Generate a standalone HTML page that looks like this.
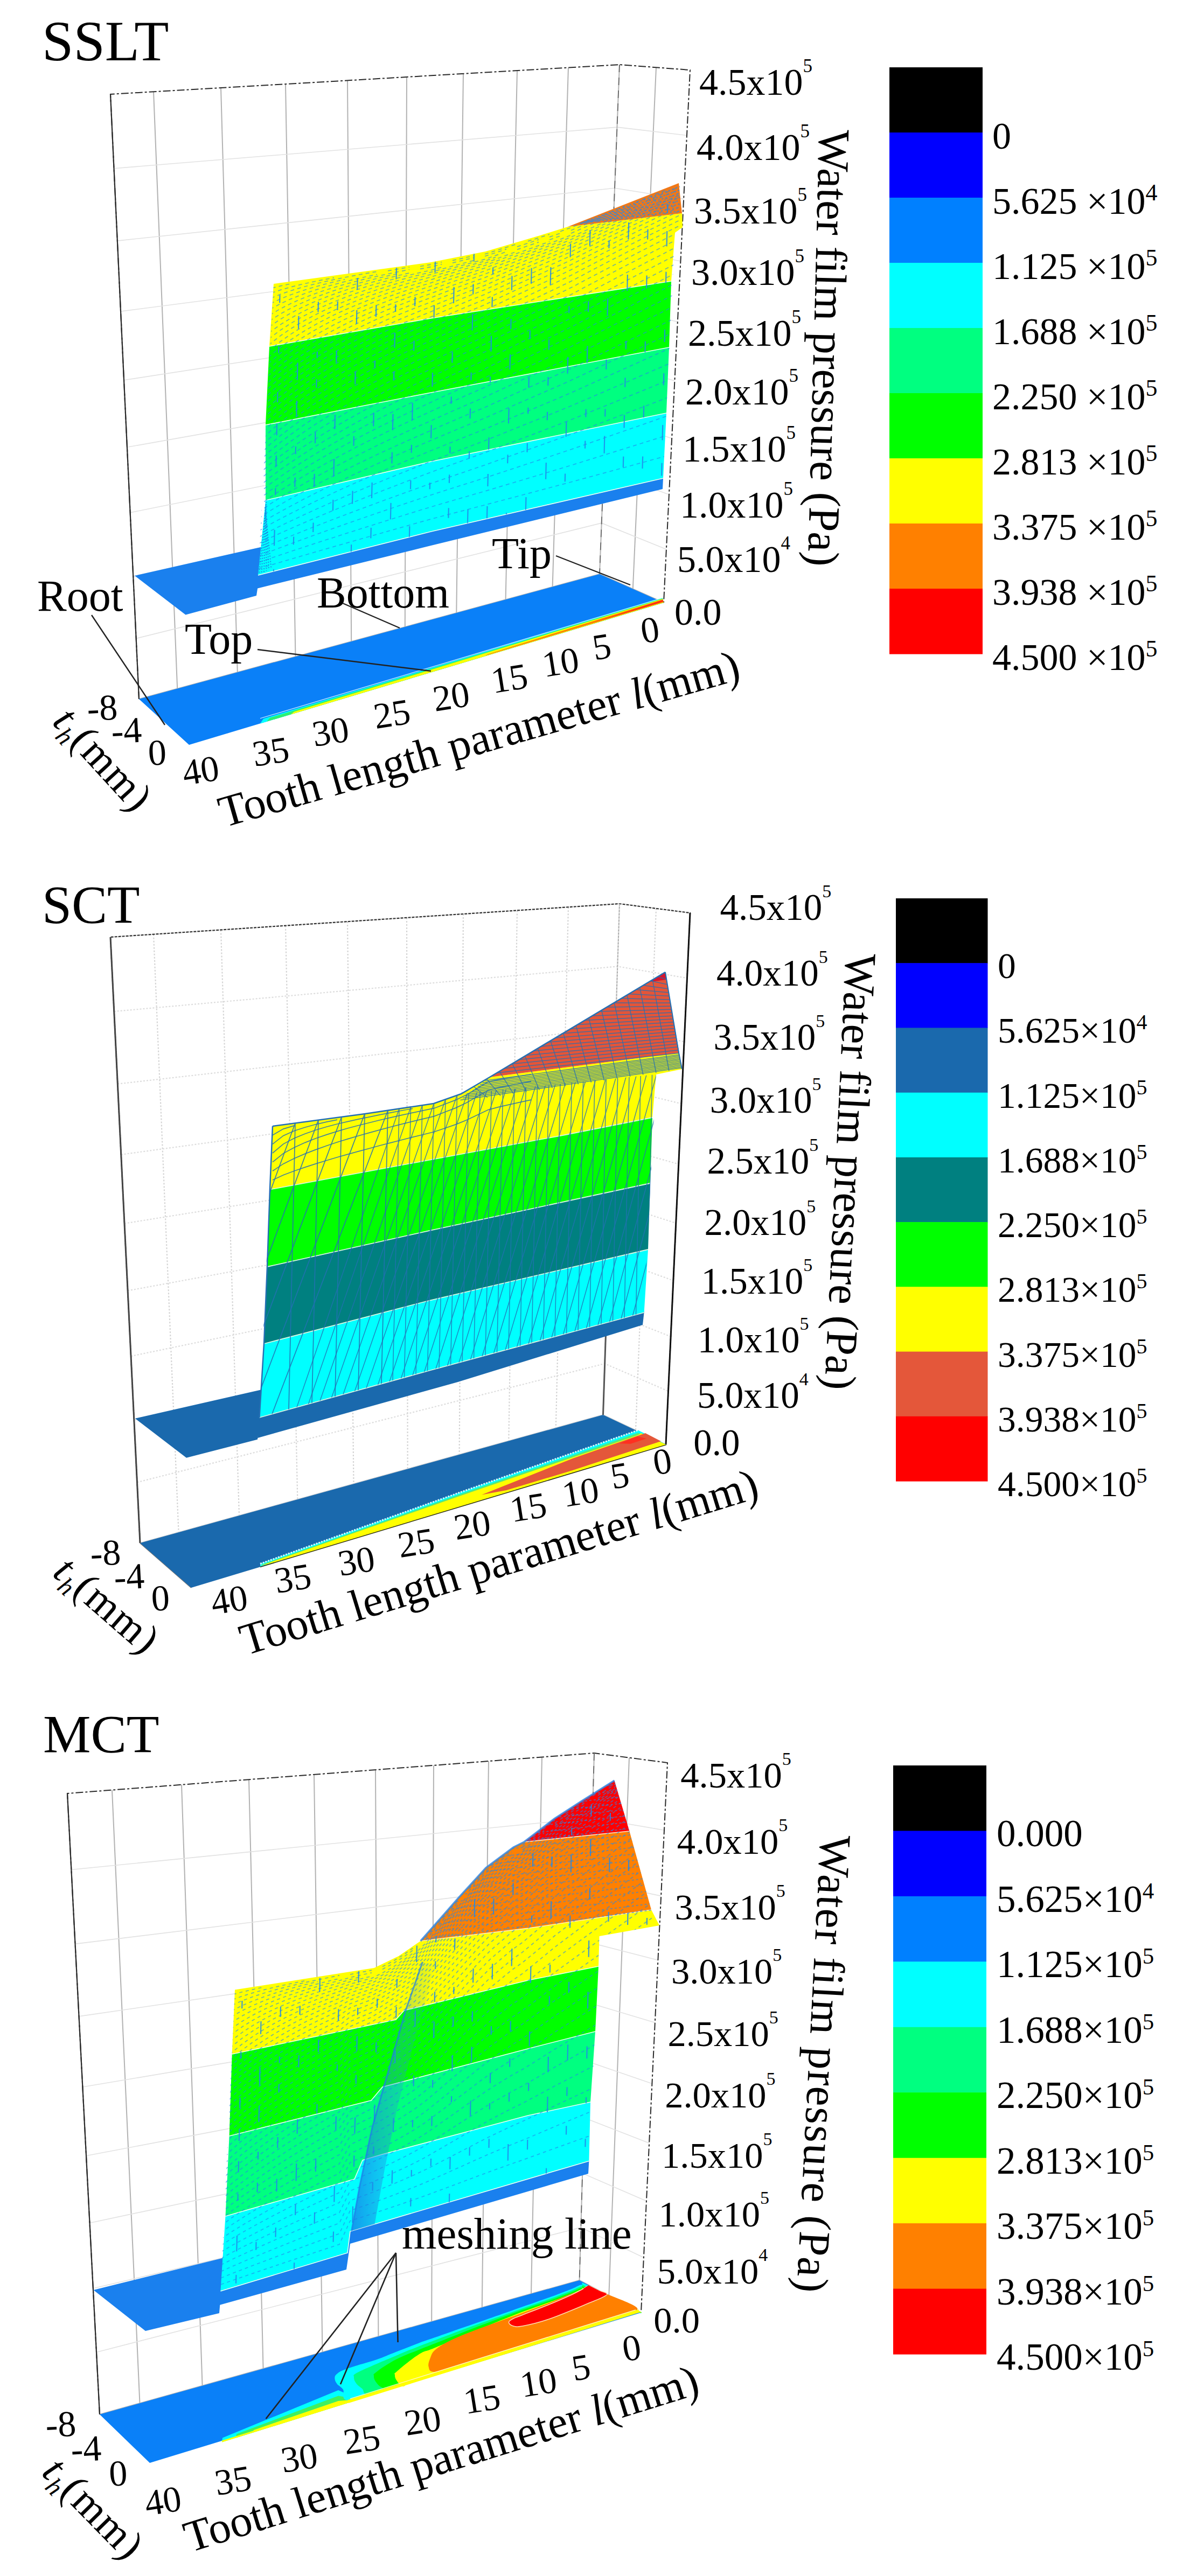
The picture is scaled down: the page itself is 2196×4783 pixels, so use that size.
<!DOCTYPE html>
<html><head><meta charset="utf-8"><title>Water film pressure</title>
<style>
html,body{margin:0;padding:0;background:#fff}
svg{display:block}
text{font-family:"Liberation Serif",serif;fill:#000}
</style></head><body>
<svg width="2196" height="4783" viewBox="0 0 2196 4783">
<rect width="2196" height="4783" fill="#fff"/>

<g id="p1">
<line x1="285.0" y1="170.3" x2="329.2" y2="1278.7" stroke="#b2b2b2" stroke-width="2.0" />
<line x1="329.2" y1="1278.7" x2="423.2" y2="1361.4" stroke="#e2e2e2" stroke-width="2.0" />
<line x1="410.0" y1="163.1" x2="440.8" y2="1248.4" stroke="#b2b2b2" stroke-width="2.0" />
<line x1="440.8" y1="1248.4" x2="536.6" y2="1327.4" stroke="#e2e2e2" stroke-width="2.0" />
<line x1="530.0" y1="156.1" x2="548.5" y2="1219.2" stroke="#b2b2b2" stroke-width="2.0" />
<line x1="548.5" y1="1219.2" x2="645.9" y2="1294.6" stroke="#e2e2e2" stroke-width="2.0" />
<line x1="645.0" y1="149.4" x2="652.2" y2="1191.0" stroke="#b2b2b2" stroke-width="2.0" />
<line x1="652.2" y1="1191.0" x2="751.1" y2="1263.1" stroke="#e2e2e2" stroke-width="2.0" />
<line x1="755.0" y1="143.0" x2="751.8" y2="1164.0" stroke="#b2b2b2" stroke-width="2.0" />
<line x1="751.8" y1="1164.0" x2="852.2" y2="1232.8" stroke="#e2e2e2" stroke-width="2.0" />
<line x1="860.0" y1="136.9" x2="847.3" y2="1138.1" stroke="#b2b2b2" stroke-width="2.0" />
<line x1="847.3" y1="1138.1" x2="949.1" y2="1203.8" stroke="#e2e2e2" stroke-width="2.0" />
<line x1="960.0" y1="131.1" x2="938.6" y2="1113.3" stroke="#b2b2b2" stroke-width="2.0" />
<line x1="938.6" y1="1113.3" x2="1041.7" y2="1176.0" stroke="#e2e2e2" stroke-width="2.0" />
<line x1="1055.0" y1="125.5" x2="1025.6" y2="1089.7" stroke="#b2b2b2" stroke-width="2.0" />
<line x1="1025.6" y1="1089.7" x2="1130.1" y2="1149.5" stroke="#e2e2e2" stroke-width="2.0" />
<line x1="1218.0" y1="125.2" x2="1174.8" y2="1093.5" stroke="#b2b2b2" stroke-width="2.0" />
<polyline points="211.5,312.8 1145.5,236.1 1275.0,251.3" fill="none" stroke="#e2e2e2" stroke-width="1.6" />
<polyline points="217.8,447.1 1141.0,349.2 1269.1,369.6" fill="none" stroke="#e2e2e2" stroke-width="1.6" />
<polyline points="224.0,578.1 1136.7,459.6 1263.4,485.0" fill="none" stroke="#e2e2e2" stroke-width="1.6" />
<polyline points="230.1,705.8 1132.5,567.1 1257.8,597.5" fill="none" stroke="#e2e2e2" stroke-width="1.6" />
<polyline points="235.9,830.3 1128.4,672.0 1252.4,707.1" fill="none" stroke="#e2e2e2" stroke-width="1.6" />
<polyline points="241.7,951.7 1124.4,774.3 1247.1,814.0" fill="none" stroke="#e2e2e2" stroke-width="1.6" />
<polyline points="247.2,1070.1 1120.5,874.0 1241.9,918.3" fill="none" stroke="#e2e2e2" stroke-width="1.6" />
<polyline points="252.7,1185.5 1116.7,971.2 1236.9,1019.9" fill="none" stroke="#e2e2e2" stroke-width="1.6" />
<polyline points="304.5,1340.5 1172.5,1092.5" fill="none" stroke="#e2e2e2" stroke-width="2.0" />
<polyline points="258.0,1298.0 205.0,175.0 1150.0,120.0 1281.0,130.0 1232.0,1119.0" fill="none" stroke="#2a2a2a" stroke-width="2.0" stroke-dasharray="14 4 4 4"/>
<line x1="1150.0" y1="120.0" x2="1113.0" y2="1066.0" stroke="#b2b2b2" stroke-width="2.0" />
<line x1="1150.0" y1="120.0" x2="1113.0" y2="1066.0" stroke="#2a2a2a" stroke-width="1.8" stroke-dasharray="14 10" opacity="0.55"/>
<line x1="258.0" y1="1298.0" x2="1113.0" y2="1066.0" stroke="#b2b2b2" stroke-width="2.0" />
<line x1="1113.0" y1="1066.0" x2="1232.0" y2="1119.0" stroke="#b2b2b2" stroke-width="2.0" />
<line x1="205.0" y1="175.0" x2="258.0" y2="1298.0" stroke="#2a2a2a" stroke-width="2.2" />
<polygon points="258.0,1298.0 1113.0,1066.0 1232.0,1119.0 351.0,1383.0" fill="#0a80f8" />
<polygon points="483.0,1343.4 1232.0,1119.0 1230.0,1110.0 489.0,1334.4" fill="#00ffff" />
<polygon points="495.0,1339.8 1232.0,1119.0 1230.0,1111.0 501.0,1332.8" fill="#30f070" />
<polygon points="540.0,1326.4 1232.0,1119.0 1230.0,1112.0 546.0,1321.4" fill="#ffff00" />
<polygon points="900.0,1217.5 1232.0,1118.0 1230.0,1113.0 906.0,1214.5" fill="#ff8000" />
<polygon points="1100.0,1156.6 1232.0,1117.0 1230.0,1114.0 1106.0,1154.6" fill="#ff3010" />
<polyline points="483.0,1333.9 1230.0,1110.1" fill="none" stroke="#d8fbff" stroke-width="1.5" opacity="0.8"/>
<polygon points="250.0,1069.0 485.0,1015.7 480.0,1080.0 476.0,1106.0 344.5,1141.6" fill="#1a80ee" />
<polygon points="479.0,1068.0 800.0,987.0 1231.0,888.0 1230.0,908.0 800.0,1013.0 476.0,1093.0" fill="#1a80ee" />
<polygon points="493.0,929.0 800.0,857.0 1237.0,767.0 1231.0,888.0 800.0,987.0 479.0,1068.0" fill="#00ffff" />
<polygon points="493.0,789.0 800.0,729.0 1242.0,645.0 1237.0,767.0 800.0,857.0 493.0,929.0" fill="#00ff80" />
<polygon points="500.0,643.0 800.0,591.0 1246.0,522.0 1242.0,645.0 800.0,729.0 493.0,789.0" fill="#00ff00" />
<polygon points="508.0,527.0 800.0,487.0 901.0,467.0 1003.0,437.0 1054.0,421.0 1266.0,396.0 1267.0,422.0 1253.0,432.0 1246.0,522.0 800.0,591.0 500.0,643.0" fill="#ffff00" />
<polygon points="1054.0,421.0 1260.0,340.0 1266.0,396.0" fill="#f07818" />
<clipPath id="cl1"><polygon points="508.0,527.0 800.0,487.0 901.0,467.0 1003.0,437.0 1054.0,421.0 1260.0,340.0 1267.0,422.0 1253.0,432.0 1231.0,888.0 800.0,987.0 479.0,1068.0"/></clipPath>
<polyline points="500.0,643.0 800.0,591.0 1246.0,522.0" fill="none" stroke="#e8fff0" stroke-width="1.6" />
<polyline points="493.0,789.0 800.0,729.0 1242.0,645.0" fill="none" stroke="#e8fff0" stroke-width="1.6" />
<polyline points="493.0,929.0 800.0,857.0 1237.0,767.0" fill="none" stroke="#e8fff0" stroke-width="1.6" />
<polyline points="479.0,1068.0 800.0,987.0 1231.0,888.0" fill="none" stroke="#e8fff0" stroke-width="1.6" />
<path clip-path="url(#cl1)" d="M480 542.5L500 536.1L520 531.2L540 526.9M480 554.2L500 545.3L520 538.6L540 532.9L560 527.9L580 523.5L600 519.4L620 515.7M480 565.9L500 554.9L520 546.6L540 539.7L560 533.7L580 528.4L600 523.6L620 519.2L640 515.1L660 511.3L680 507.6L700 504.2M480 577.5L500 564.9L520 555.2L540 547.2L560 540.2L580 534.0L600 528.4L620 523.4L640 518.8M720 502.9L740 499.4L760 496.0M480 589.2L500 575.1L520 564.2L540 555.1L560 547.2L580 540.2L600 533.9L620 528.3L640 523.0L660 518.2L680 513.7L700 509.5M780 494.5L800 491.1L820 486.6M480 600.9L500 585.4L520 573.6L540 563.5L560 554.7L580 547.0L600 540.0L620 533.7L640 527.9L660 522.6L680 517.6L700 513.0L720 508.6L740 504.5L760 500.5M840 483.7L860 479.2L880 474.7M480 612.5L500 596.0L520 583.2L540 572.2L560 562.7L580 554.2L600 546.6L620 539.6L640 533.3L660 527.5L680 522.1L700 517.0L720 512.2L740 507.8M780 499.4L800 495.5L820 490.6M900 471.8L920 465.5L940 459.2L960 452.9M480 624.2L500 606.7L520 593.0L540 581.3L560 571.0L580 561.9L600 553.6L620 546.1L640 539.2L660 532.9L680 527.0L700 521.5L720 516.4L740 511.5L760 506.9M840 488.1L860 483.2L880 478.3M980 447.9L1000 441.6L1020 435.0M480 635.9L500 617.5L520 603.1L540 590.7L560 579.7L580 569.9L600 561.1L620 553.0L640 545.6L660 538.8L680 532.4L700 526.5L720 521.0L740 515.8L760 510.8L780 506.1L800 501.7L820 496.2M900 475.8L920 469.2L940 462.6M1040 429.7L1060 422.5L1080 414.3L1100 406.1M480 647.6L500 628.5L520 613.4L540 600.3L560 588.8L580 578.4L600 569.0L620 560.4L640 552.4L660 545.1L680 538.4L700 532.0L720 526.1L740 520.5L760 515.2L780 510.2L800 505.4L820 499.7L840 494.1L860 488.8L880 483.5M960 458.1L980 451.5L1000 444.9M1120 399.2L1140 390.9L1160 382.8M480 659.2L500 639.5L520 623.9L540 610.2L560 598.1L580 587.2L600 577.2L620 568.1L640 559.7L660 552.0L680 544.7L700 538.0L720 531.7L740 525.7L760 520.1L780 514.7L800 509.6L820 503.6L840 497.8L860 492.2L880 486.7L900 481.4L920 474.4L940 467.4M1020 440.1L1040 433.1M1180 375.8L1200 367.6L1220 359.4L1240 351.3M480 670.9L500 650.7L520 634.5L540 620.4L560 607.7L580 596.3L600 585.9L620 576.3L640 567.4L660 559.2L680 551.6L700 544.4L720 537.7L740 531.4L760 525.4L780 519.7L800 514.3L820 508.0L840 502.0L860 496.1L880 490.4L900 484.8L920 477.6M960 463.4L980 456.4L1000 449.6M1060 427.8L1080 419.3L1100 410.8L1120 402.4M1260 344.3M480 682.6L500 661.9L520 645.3L540 630.7L560 617.6L580 605.8L600 594.9L620 584.8L640 575.6L660 566.9L680 558.9L700 551.3L720 544.2L740 537.5L760 531.2L780 525.2L800 519.5L820 512.9L840 506.6L860 500.4L880 494.5L900 488.7L920 481.3L940 473.9L960 466.7M1020 445.2L1040 438.0M1140 396.0L1160 387.5L1180 379.1M480 694.2L500 673.3L520 656.3L540 641.3L560 627.8L580 615.5L600 604.2L620 593.8L640 584.1L660 575.0L680 566.6L700 558.7L720 551.2L740 544.2L760 537.5L780 531.2L800 525.1L820 518.3L840 511.7L860 505.3L880 499.0L900 493.0L920 485.4L940 477.8L960 470.4L980 463.1L1000 455.9L1020 448.4M1060 433.2L1080 424.4L1100 415.7L1120 407.0M1200 372.8L1220 364.3L1240 355.9L1260 347.5M480 705.9L500 684.7L520 667.4L540 652.1L560 638.2L580 625.5L600 613.9L620 603.1L640 593.0L660 583.6L680 574.8L700 566.5L720 558.7L740 551.3L760 544.3L780 537.6L800 531.3L820 524.1L840 517.2L860 510.6L880 504.1L900 497.8L920 490.0L940 482.2L960 474.6L980 467.1L1000 459.7L1020 452.1L1040 444.5L1060 436.5M1140 401.1L1160 392.4L1180 383.8M480 717.6L500 696.1L520 678.6L540 663.0L560 648.9L580 635.9L600 623.8L620 612.7L640 602.3L660 592.5L680 583.4L700 574.7L720 566.6L740 558.9L760 551.5L780 544.6L800 537.9L820 530.5L840 523.3L860 516.4L880 509.7L900 503.2L920 495.1L940 487.2L960 479.3L980 471.6L1000 464.0L1020 456.2L1040 448.5L1060 440.3L1080 431.2L1100 422.2L1120 413.3L1140 404.4M1200 378.0L1220 369.4L1240 360.7L1260 352.2M480 729.3L500 707.7L520 690.0L540 674.1L560 659.7L580 646.4L600 634.1L620 622.7L640 611.9L660 601.9L680 592.4L700 583.4L720 574.9L740 566.9L760 559.3L780 552.0L800 545.0L820 537.4L840 529.9L860 522.8L880 515.8L900 509.0L920 500.8L940 492.6L960 484.5L980 476.6L1000 468.8L1020 460.9L1040 452.9L1060 444.7L1080 435.4L1100 426.2L1120 417.1L1140 408.1L1160 399.1L1180 390.2L1200 381.4M480 740.9L500 719.3L520 701.4L540 685.4L560 670.8L580 657.3L600 644.7L620 633.0L640 621.9L660 611.6L680 601.8L700 592.5L720 583.8L740 575.4L760 567.5L780 559.9L800 552.7L820 544.7L840 537.1L860 529.6L880 522.4L900 515.4L920 506.9L940 498.6L960 490.3L980 482.2L1000 474.2L1020 466.1L1040 457.9L1060 449.5L1080 440.1L1100 430.8L1120 421.5L1140 412.3L1160 403.2L1180 394.2L1200 385.2L1220 376.3L1240 367.4L1260 358.6M480 752.6L500 731.0L520 713.0L540 696.9L560 682.1L580 668.4L600 655.6L620 643.6L640 632.3L660 621.7L680 611.6L700 602.1L720 593.0L740 584.4L760 576.2L780 568.3L800 560.8L820 552.6L840 544.7L860 537.0L880 529.6L900 522.4L920 513.7L940 505.1L960 496.6L980 488.3L1000 480.2L1020 471.8L1040 463.5L1060 454.9L1080 445.3L1100 435.9L1120 426.5L1140 417.1L1160 407.9L1180 398.7L1200 389.6L1220 380.5L1240 371.5L1260 362.6M480 764.3L500 742.7L520 724.7L540 708.5L560 693.6L580 679.7L600 666.7L620 654.5L640 643.0L660 632.2L680 621.9L700 612.1L720 602.8L740 593.9L760 585.4L780 577.3L800 569.5L820 561.1L840 552.9L860 545.0L880 537.3L900 529.9L920 521.0L940 512.2L960 503.5L980 495.1L1000 486.7L1020 478.2L1040 469.7L1060 460.9L1080 451.2L1100 441.6L1120 432.0L1140 422.5L1160 413.1L1180 403.8L1200 394.5L1220 385.3L1240 376.2L1260 367.1M480 775.9L500 754.5L520 736.5L540 720.3L560 705.3L580 691.3L600 678.1L620 665.8L640 654.1L660 643.0L680 632.5L700 622.5L720 612.9L740 603.8L760 595.1L780 586.7L800 578.7L820 570.0L840 561.7L860 553.5L880 545.6L900 537.9L920 528.9L940 519.9L960 511.1L980 502.4L1000 493.8L1020 485.1L1040 476.5L1060 467.5L1080 457.7L1100 447.9L1120 438.2L1140 428.6L1160 419.0L1180 409.6L1200 400.2L1220 390.8L1240 381.5L1260 372.3M480 787.6L500 766.3L520 748.4L540 732.2L560 717.1L580 703.1L600 689.8L620 677.3L640 665.5L660 654.2L680 643.5L700 633.3L720 623.5L740 614.2L760 605.2L780 596.6L800 588.4L820 579.5L840 571.0L860 562.6L880 554.5L900 546.6L920 537.4L940 528.2L960 519.2L980 510.4L1000 501.6L1020 492.8L1040 483.9L1060 474.8L1080 464.8L1100 454.9L1120 445.0L1140 435.3L1160 425.6L1180 416.0L1200 406.4L1220 397.0L1240 387.6L1260 378.2M480 799.3L500 778.2L520 760.4L540 744.2L560 729.2L580 715.1L600 701.8L620 689.2L640 677.2L660 665.8L680 654.9L700 644.5L720 634.6L740 625.1L760 615.9L780 607.1L800 598.6L820 589.6L840 580.8L860 572.3L880 564.0L900 555.9L920 546.5L940 537.2L960 528.0L980 519.0L1000 510.1L1020 501.0L1040 492.1L1060 482.8L1080 472.7L1100 462.6L1120 452.6L1140 442.7L1160 432.9L1180 423.1L1200 413.5L1220 403.9L1240 394.3L1260 384.8M480 811.0L500 790.1L520 772.5L540 756.4L560 741.4L580 727.3L600 713.9L620 701.3L640 689.2L660 677.7L680 666.7L700 656.2L720 646.1L740 636.4L760 627.0L780 618.1L800 609.4L820 600.2L840 591.2L860 582.5L880 574.1L900 565.8L920 556.2L940 546.8L960 537.4L980 528.3L1000 519.2L1020 510.0L1040 500.9L1060 491.5L1080 481.2L1100 471.0L1120 460.9L1140 450.9L1160 441.0L1180 431.1L1200 421.3L1220 411.5L1240 401.9L1260 392.2M480 822.6L500 802.1L520 784.7L540 768.7L560 753.8L580 739.7L600 726.4L620 713.7L640 701.6L660 690.0L680 678.9L700 668.3L720 658.0L740 648.2L760 638.7L780 629.5L800 620.7L820 611.3L840 602.3L860 593.4L880 584.7L900 576.3L920 566.6L940 557.0L960 547.6L980 538.3L1000 529.1L1020 519.8L1040 510.5L1060 500.9L1080 490.6L1100 480.3L1120 470.0L1140 459.9L1160 449.8L1180 439.8L1200 429.9L1220 420.0L1240 410.2L1260 400.5M480 834.3L500 814.2L520 797.0L540 781.2L560 766.4L580 752.4L600 739.1L620 726.4L640 714.2L660 702.6L680 691.5L700 680.7L720 670.4L740 660.4L760 650.8L780 641.5L800 632.5L820 623.1L840 613.8L860 604.9L880 596.1L900 587.5L920 577.7L940 568.0L960 558.4L980 549.0L1000 539.7L1020 530.2L1040 520.8L1060 511.2L1080 500.7L1100 490.3L1120 480.0L1140 469.7L1160 459.5L1180 449.4L1200 439.4L1220 429.4L1240 419.5L1260 409.7M480 846.0L500 826.2L520 809.4L540 793.8L560 779.1L580 765.2L600 752.0L620 739.3L640 727.2L660 715.6L680 704.4L700 693.6L720 683.2L740 673.1L760 663.4L780 654.0L800 644.9L820 635.3L840 626.0L860 616.9L880 608.0L900 599.3L920 589.4L940 579.6L960 570.0L980 560.4L1000 551.0L1020 541.5L1040 532.0L1060 522.2L1080 511.7L1100 501.2L1120 490.8L1140 480.4L1160 470.2L1180 460.0L1200 449.8L1220 439.7L1240 429.7L1260 419.8M480 857.7L500 838.4L520 821.8L540 806.5L560 792.0L580 778.2L600 765.1L620 752.6L640 740.5L660 728.9L680 717.7L700 706.9L720 696.4L740 686.3L760 676.5L780 667.0L800 657.8L820 648.2L840 638.8L860 629.6L880 620.6L900 611.8L920 601.9L940 592.0L960 582.3L980 572.6L1000 563.2L1020 553.5L1040 543.9L1060 534.1L1080 523.5L1100 512.9L1120 502.5L1140 492.1L1160 481.7L1180 471.4L1200 461.2L1220 451.1L1240 441.0L1260 430.9M480 869.3L500 850.5L520 834.3L540 819.3L560 805.0L580 791.5L600 778.5L620 766.1L640 754.1L660 742.5L680 731.4L700 720.6L720 710.1L740 700.0L760 690.1L780 680.6L800 671.3L820 661.6L840 652.2L860 642.9L880 633.9L900 625.0L920 615.0L940 605.1L960 595.3L980 585.6L1000 576.1L1020 566.4L1040 556.8L1060 546.9L1080 536.2L1100 525.6L1120 515.1L1140 504.6L1160 494.2L1180 483.9L1200 473.6L1220 463.4L1240 453.2L1260 443.1M480 881.0L500 862.7L520 846.9L540 832.2L560 818.2L580 804.9L600 792.1L620 779.8L640 767.9L660 756.5L680 745.4L700 734.6L720 724.2L740 714.1L760 704.2L780 694.6L800 685.3L820 675.7L840 666.2L860 656.9L880 647.8L900 638.9L920 628.9L940 619.0L960 609.2L980 599.5L1000 589.9L1020 580.1L1040 570.5L1060 560.5L1080 549.9L1100 539.3L1120 528.7L1140 518.2L1160 507.8L1180 497.5L1200 487.1L1220 476.9L1240 466.7L1260 456.5M480 892.7L500 875.0L520 859.6L540 845.2L560 831.6L580 818.5L600 805.9L620 793.8L640 782.1L660 770.8L680 759.8L700 749.1L720 738.7L740 728.6L760 718.8L780 709.2L800 699.9L820 690.3L840 680.8L860 671.5L880 662.4L900 653.5L920 643.5L940 633.6L960 623.8L980 614.1L1000 604.5L1020 594.7L1040 585.1L1060 575.1L1080 564.5L1100 553.9L1120 543.4L1140 532.9L1160 522.5L1180 512.1L1200 501.8L1220 491.5L1240 481.3L1260 471.1M480 904.3L500 887.3L520 872.4L540 858.4L560 845.0L580 832.3L600 820.0L620 808.1L640 796.6L660 785.4L680 774.5L700 764.0L720 753.7L740 743.7L760 733.9L780 724.4L800 715.0L820 705.5L840 696.0L860 686.8L880 677.7L900 668.8L920 658.8L940 649.0L960 639.2L980 629.5L1000 620.0L1020 610.3L1040 600.6L1060 590.7L1080 580.1L1100 569.6L1120 559.1L1140 548.6L1160 538.2L1180 527.9L1200 517.6L1220 507.3L1240 497.1L1260 486.9M480 916.0L500 899.6L520 885.2L540 871.6L560 858.7L580 846.2L600 834.2L620 822.6L640 811.3L660 800.3L680 789.6L700 779.2L720 769.1L740 759.1L760 749.5L780 740.0L800 730.7L820 721.2L840 711.9L860 702.7L880 693.7L900 684.8L920 675.0L940 665.2L960 655.5L980 645.9L1000 636.4L1020 626.7L1040 617.1L1060 607.3L1080 596.8L1100 586.3L1120 575.9L1140 565.5L1160 555.2L1180 544.9L1200 534.6L1220 524.4L1240 514.2L1260 504.1M480 927.7L500 911.9L520 898.1L540 885.0L560 872.4L580 860.4L600 848.7L620 837.3L640 826.3L660 815.6L680 805.1L700 794.9L720 784.9L740 775.1L760 765.5L780 756.2L800 747.0L820 737.6L840 728.4L860 719.3L880 710.4L900 701.5L920 691.8L940 682.2L960 672.6L980 663.1L1000 653.7L1020 644.1L1040 634.6L1060 624.8L1080 614.5L1100 604.1L1120 593.9L1140 583.6L1160 573.4L1180 563.2L1200 553.0L1220 542.9L1240 532.7L1260 522.7M480 939.4L500 924.3L520 911.0L540 898.4L560 886.3L580 874.7L600 863.3L620 852.3L640 841.6L660 831.1L680 820.9L700 810.9L720 801.1L740 791.5L760 782.1L780 772.9L800 763.8L820 754.6L840 745.6L860 736.6L880 727.8L900 719.1L920 709.5L940 700.0L960 690.6L980 681.2L1000 671.9L1020 662.5L1040 653.1L1060 643.5L1080 633.3L1100 623.1L1120 613.0L1140 602.9L1160 592.8L1180 582.7L1200 572.7L1220 562.7L1240 552.7L1260 542.7M480 951.0L500 936.8L520 924.1L540 912.0L560 900.4L580 889.1L600 878.2L620 867.6L640 857.2L660 847.0L680 837.1L700 827.3L720 817.7L740 808.4L760 799.2L780 790.1L800 781.2L820 772.2L840 763.3L860 754.6L880 745.9L900 737.3L920 728.0L940 718.7L960 709.5L980 700.3L1000 691.1L1020 681.9L1040 672.7L1060 663.2L1080 653.3L1100 643.3L1120 633.4L1140 623.4L1160 613.5L1180 603.7L1200 593.8L1220 584.0L1240 574.1L1260 564.3M480 962.7L500 949.2L520 937.1L540 925.6L560 914.5L580 903.8L600 893.3L620 883.0L640 873.0L660 863.2L680 853.6L700 844.1L720 834.8L740 825.7L760 816.7L780 807.9L800 799.2L820 790.4L840 781.8L860 773.2L880 764.7L900 756.4L920 747.3L940 738.2L960 729.2L980 720.2L1000 711.3L1020 702.3L1040 693.3L1060 684.1L1080 674.4L1100 664.7L1120 655.0L1140 645.3L1160 635.7L1180 626.0L1200 616.4L1220 606.7L1240 597.1L1260 587.5M480 974.4L500 961.7L520 950.3L540 939.4L560 928.8L580 918.6L600 908.5L620 898.7L640 889.1L660 879.7L680 870.4L700 861.3L720 852.3L740 843.5L760 834.8L780 826.2L800 817.7L820 809.3L840 800.9L860 792.6L880 784.3L900 776.2L920 767.4L940 758.6L960 749.9L980 741.2L1000 732.5L1020 723.8L1040 715.0L1060 706.1L1080 696.7L1100 687.3L1120 677.9L1140 668.5L1160 659.2L1180 649.8L1200 640.5L1220 631.1L1240 621.8L1260 612.4M480 986.0L500 974.2L520 963.5L540 953.2L560 943.3L580 933.5L600 924.0L620 914.7L640 905.5L660 896.5L680 887.6L700 878.8L720 870.2L740 861.7L760 853.3L780 845.0L800 836.8L820 828.7L840 820.6L860 812.6L880 804.7L900 796.8L920 788.4L940 779.9L960 771.5L980 763.1L1000 754.8L1020 746.3L1040 737.9L1060 729.3L1080 720.3L1100 711.2L1120 702.2L1140 693.2L1160 684.2L1180 675.2L1200 666.1L1220 657.1L1240 648.1L1260 639.1M480 997.7L500 986.8L520 976.8L540 967.2L560 957.8L580 948.6L600 939.7L620 930.8L640 922.1L660 913.6L680 905.1L700 896.8L720 888.5L740 880.4L760 872.4L780 864.4L800 856.5L820 848.8L840 841.0L860 833.4L880 825.8L900 818.2L920 810.2L940 802.1L960 794.1L980 786.1L1000 778.1L1020 770.0L1040 761.9L1060 753.7L1080 745.1L1100 736.5L1120 727.9L1140 719.3L1160 710.7L1180 702.1L1200 693.4L1220 684.8L1240 676.2L1260 667.6M480 1009.4L500 999.4L520 990.1L540 981.2L560 972.5L580 963.9L600 955.5L620 947.2L640 939.0L660 931.0L680 923.0L700 915.1L720 907.3L740 899.6L760 891.9L780 884.3L800 876.8L820 869.4L840 862.1L860 854.9L880 847.6L900 840.4L920 832.8L940 825.2L960 817.6L980 810.0L1000 802.4L1020 794.8L1040 787.1L1060 779.3L1080 771.2L1100 763.1L1120 755.0L1140 746.9L1160 738.7L1180 730.6L1200 722.5L1220 714.3L1240 706.1L1260 698.0M480 1021.1L500 1012.0L520 1003.5L540 995.3L560 987.3L580 979.3L600 971.5L620 963.8L640 956.2L660 948.6L680 941.2L700 933.8L720 926.4L740 919.2L760 911.9L780 904.8L800 897.7L820 890.8L840 883.9L860 877.1L880 870.2L900 863.5L920 856.3L940 849.2L960 842.1L980 835.0L1000 827.9L1020 820.7L1040 813.5L1060 806.3L1080 798.7L1100 791.1L1120 783.6L1140 776.0L1160 768.4L1180 760.8L1200 753.2L1220 745.6L1240 738.0L1260 730.4M480 1032.7L500 1024.6L520 1017.0L540 1009.5L560 1002.2L580 994.9L600 987.7L620 980.6L640 973.6L660 966.6L680 959.7L700 952.8L720 946.0L740 939.2L760 932.5L780 925.8L800 919.1L820 912.7L840 906.3L860 900.0L880 893.7L900 887.3L920 880.8L940 874.2L960 867.6L980 861.0L1000 854.4L1020 847.8L1040 841.2L1060 834.5L1080 827.6L1100 820.6L1120 813.7L1140 806.7L1160 799.8L1180 792.8L1200 785.8L1220 778.8L1240 771.8L1260 764.8M480 1044.4L500 1037.3L520 1030.5L540 1023.8L560 1017.2L580 1010.6L600 1004.1L620 997.7L640 991.3L660 984.9L680 978.6L700 972.3L720 966.0L740 959.7L760 953.5L780 947.3L800 941.2L820 935.3L840 929.5L860 923.7L880 917.8L900 912.1L920 906.1L940 900.1L960 894.1L980 888.1L1000 882.2L1020 876.1L1040 870.1L1060 864.0L1080 857.8L1100 851.6L1120 845.3L1140 839.1L1160 832.8L1180 826.6L1200 820.3L1220 814.0L1240 807.7L1260 801.4M480 1056.1L500 1050.0L520 1044.0L540 1038.2L560 1032.3L580 1026.5L600 1020.7L620 1014.9L640 1009.2L660 1003.5L680 997.8L700 992.1L720 986.4L740 980.7L760 975.1L780 969.4L800 963.8L820 958.5L840 953.3L860 948.1L880 942.8L900 937.6L920 932.3L940 927.0L960 921.7L980 916.3L1000 911.0L1020 905.7L1040 900.3L1060 895.0L1080 889.5L1100 884.1L1120 878.6L1140 873.1L1160 867.7L1180 862.2L1200 856.7L1220 851.2L1240 845.7L1260 840.2" fill="none" stroke="#2088ea" stroke-width="1.7" opacity="0.62" stroke-dasharray="7 6"/>
<path clip-path="url(#cl1)" d="M519.5 548.0L519.2 562.3M517.3 642.9L517.1 655.5M515.4 728.0L515.0 747.1M514.1 786.1L513.6 808.3M512.8 845.9L512.3 866.4M511.4 906.3L511.1 919.3M509.7 984.0L509.0 1013.2M508.0 1056.9L507.7 1072.8M554.5 586.8L554.0 610.5M552.5 673.2L551.8 705.7M550.9 744.0L550.2 773.9M549.0 829.1L548.7 843.3M547.7 886.5L547.3 904.3M545.2 996.5L544.8 1011.4M591.0 560.2L590.5 579.4M588.9 652.8L588.6 665.1M587.7 704.3L587.3 719.8M585.4 802.5L585.0 822.9M583.7 879.9L583.1 903.7M581.6 970.5L581.2 988.1M626.9 559.5L626.5 575.9M624.8 651.1L624.2 673.6M622.0 769.9L621.4 796.9M620.1 852.1L619.4 884.7M618.4 927.9L617.9 948.1M663.8 516.3L663.2 538.0M662.4 575.8L661.8 601.5M659.7 690.0L659.2 713.6M656.9 809.9L656.5 827.8M654.6 911.5L654.0 935.5M652.2 1011.1L651.7 1032.2M698.4 566.8L697.9 588.3M696.0 669.7L695.7 682.1M693.8 766.2L693.2 791.4M690.7 895.9L690.0 925.0M688.8 979.9L688.3 999.4M736.0 497.3L735.5 518.5M734.4 565.3L734.0 578.8M733.1 618.0L732.4 645.9M731.4 689.9L731.0 706.4M729.5 768.7L728.8 798.9M727.9 839.6L727.4 860.4M725.6 933.9L724.9 964.3M770.6 551.3L770.1 568.4M768.6 632.5L768.2 651.4M765.9 748.3L765.1 780.4M764.0 825.9L763.7 840.8M762.4 892.0L762.0 908.2M760.4 977.1L759.8 1001.1M808.0 485.7L807.5 505.9M806.0 566.8L805.5 590.2M803.0 691.9L802.4 718.1M800.7 789.2L800.1 813.8M798.1 896.1L797.8 908.3M842.7 532.9L842.0 563.1M839.8 654.0L839.3 673.6M837.8 736.5L837.5 749.8M835.6 829.2L835.3 841.6M834.3 881.3L833.9 896.9M832.8 943.3L832.4 961.7M880.0 471.2L879.7 485.5M878.6 527.6L878.2 546.6M877.3 583.4L876.6 613.6M874.7 691.6L874.3 705.9M873.1 758.5L872.6 777.2M871.2 837.7L870.8 851.4M868.6 945.8L867.8 978.6M915.2 496.5L914.9 509.3M913.9 551.5L913.4 570.0M912.1 623.6L911.4 652.8M910.3 699.1L910.0 710.6M907.6 812.2L907.0 834.8M905.9 880.1L905.4 903.0M904.5 939.9L903.9 962.5M950.5 512.4L949.9 538.7M948.6 592.0L948.2 611.1M947.1 657.8L946.4 685.8M944.7 758.1L944.0 786.2M942.6 844.3L942.2 860.2M940.0 952.0L939.2 984.6M986.7 497.8L986.0 526.8M983.9 613.6L983.5 629.6M981.8 700.9L981.4 719.7M980.5 756.7L980.2 768.3M978.9 822.9L978.5 839.6M976.5 923.1L975.7 955.1M1022.4 496.0L1021.7 528.7M1019.2 630.6L1018.8 649.6M1017.6 700.0L1017.2 716.0M1016.1 764.8L1015.7 780.3M1013.8 859.0L1013.1 889.8M1059.2 452.2L1058.6 477.6M1056.5 568.5L1056.2 581.4M1054.2 662.7L1053.5 693.7M1051.4 783.4L1050.7 810.9M1049.1 879.4L1048.8 894.3M1095.5 427.8L1094.8 456.4M1092.4 559.4L1091.9 579.1M1090.5 642.2L1089.7 674.0M1087.7 759.8L1087.4 774.5M1086.3 818.4L1086.0 832.7M1130.7 446.8L1130.4 461.0M1128.2 553.9L1127.5 586.4M1125.6 667.4L1125.2 686.1M1123.5 759.5L1123.2 773.4M1122.3 809.4L1121.6 841.8M1167.2 413.0L1166.4 444.6M1164.9 509.9L1164.3 540.1M1162.1 633.0L1161.8 648.6M1160.6 701.2L1160.2 718.7M1159.0 770.5L1158.5 794.4M1157.3 847.6L1156.8 867.8M1202.6 425.7L1202.1 444.5M1200.6 511.6L1200.1 535.4M1197.9 633.7L1197.4 654.0M1195.2 753.2L1194.7 775.2M1193.1 847.5L1192.5 870.0M1239.3 378.7L1239.0 393.7M1238.2 429.0L1237.6 457.6M1236.5 504.6L1236.0 526.0M1234.1 611.8L1233.6 635.0M1232.3 692.9L1231.8 715.3M1230.2 789.1L1229.5 817.4M1228.6 859.8L1228.1 883.2" fill="none" stroke="#2088ea" stroke-width="2.2" opacity="0.85"/>
<g stroke="#2a8ae8" stroke-width="2.2" stroke-dasharray="3 4" fill="none" opacity="0.75">
<line x1="1077.0" y1="414.7" x2="1262.0" y2="346.5" stroke="#2a8ae8" stroke-width="2.2" />
<line x1="1079.0" y1="414.4" x2="1262.0" y2="353.0" stroke="#2a8ae8" stroke-width="2.2" />
<line x1="1081.0" y1="414.1" x2="1262.0" y2="359.5" stroke="#2a8ae8" stroke-width="2.2" />
<line x1="1083.0" y1="413.8" x2="1262.0" y2="366.0" stroke="#2a8ae8" stroke-width="2.2" />
<line x1="1085.0" y1="413.5" x2="1262.0" y2="372.5" stroke="#2a8ae8" stroke-width="2.2" />
<line x1="1087.0" y1="413.2" x2="1262.0" y2="379.0" stroke="#2a8ae8" stroke-width="2.2" />
<line x1="1089.0" y1="412.9" x2="1262.0" y2="385.5" stroke="#2a8ae8" stroke-width="2.2" />
<line x1="1091.0" y1="412.6" x2="1262.0" y2="392.0" stroke="#2a8ae8" stroke-width="2.2" />
</g>
<g stroke="#1c7ce0" stroke-width="2" stroke-dasharray="2 3" fill="none" opacity="0.8">
<line x1="494.0" y1="932.0" x2="481.0" y2="1066.0" stroke="#1c7ce0" stroke-width="2" />
<line x1="493.8" y1="936.0" x2="485.5" y2="1064.0" stroke="#1c7ce0" stroke-width="2" />
<line x1="493.6" y1="940.0" x2="490.0" y2="1062.0" stroke="#1c7ce0" stroke-width="2" />
<line x1="493.4" y1="944.0" x2="494.5" y2="1060.0" stroke="#1c7ce0" stroke-width="2" />
<line x1="493.2" y1="948.0" x2="499.0" y2="1058.0" stroke="#1c7ce0" stroke-width="2" />
<line x1="493.0" y1="952.0" x2="503.5" y2="1056.0" stroke="#1c7ce0" stroke-width="2" />
</g>
<text x="78.0" y="111.5" font-size="105" text-anchor="start" >SSLT</text>
<text x="69.0" y="1134.0" font-size="82" text-anchor="start" >Root</text>
<text x="343.0" y="1213.5" font-size="82" text-anchor="start" >Top</text>
<text x="588.0" y="1128.0" font-size="82" text-anchor="start" >Bottom</text>
<text x="913.0" y="1055.0" font-size="82" text-anchor="start" >Tip</text>
<line x1="170.0" y1="1142.0" x2="306.0" y2="1346.0" stroke="#222" stroke-width="2.4" />
<line x1="478.0" y1="1206.0" x2="800.0" y2="1246.0" stroke="#222" stroke-width="2.4" />
<line x1="636.0" y1="1120.0" x2="742.0" y2="1166.0" stroke="#222" stroke-width="2.4" />
<line x1="1032.0" y1="1032.0" x2="1170.0" y2="1086.0" stroke="#222" stroke-width="2.4" />
<text x="1298.0" y="176.0" font-size="70" text-anchor="start" >4.5x10<tspan dy="-42" font-size="35">5</tspan></text>
<text x="1293.0" y="296.5" font-size="70" text-anchor="start" >4.0x10<tspan dy="-42" font-size="35">5</tspan></text>
<text x="1288.0" y="414.8" font-size="70" text-anchor="start" >3.5x10<tspan dy="-42" font-size="35">5</tspan></text>
<text x="1283.0" y="529.0" font-size="70" text-anchor="start" >3.0x10<tspan dy="-42" font-size="35">5</tspan></text>
<text x="1277.0" y="641.8" font-size="70" text-anchor="start" >2.5x10<tspan dy="-42" font-size="35">5</tspan></text>
<text x="1272.0" y="750.9" font-size="70" text-anchor="start" >2.0x10<tspan dy="-42" font-size="35">5</tspan></text>
<text x="1267.0" y="857.2" font-size="70" text-anchor="start" >1.5x10<tspan dy="-42" font-size="35">5</tspan></text>
<text x="1262.0" y="960.7" font-size="70" text-anchor="start" >1.0x10<tspan dy="-42" font-size="35">5</tspan></text>
<text x="1257.0" y="1061.5" font-size="70" text-anchor="start" >5.0x10<tspan dy="-42" font-size="35">4</tspan></text>
<text x="1252.0" y="1159.5" font-size="70" text-anchor="start" >0.0</text>
<text x="1521.0" y="240.0" font-size="83" text-anchor="start" transform="rotate(91.5 1521.0 240.0)" >Water film pressure (Pa)</text>
<text x="376.0" y="1453.0" font-size="68" text-anchor="middle" transform="rotate(-9 376.0 1453.0)" >40</text>
<text x="506.0" y="1418.0" font-size="68" text-anchor="middle" transform="rotate(-9 506.0 1418.0)" >35</text>
<text x="617.0" y="1381.0" font-size="68" text-anchor="middle" transform="rotate(-9 617.0 1381.0)" >30</text>
<text x="731.0" y="1348.0" font-size="68" text-anchor="middle" transform="rotate(-9 731.0 1348.0)" >25</text>
<text x="841.0" y="1315.6" font-size="68" text-anchor="middle" transform="rotate(-9 841.0 1315.6)" >20</text>
<text x="949.0" y="1282.0" font-size="68" text-anchor="middle" transform="rotate(-9 949.0 1282.0)" >15</text>
<text x="1044.0" y="1252.0" font-size="68" text-anchor="middle" transform="rotate(-9 1044.0 1252.0)" >10</text>
<text x="1120.5" y="1223.0" font-size="68" text-anchor="middle" transform="rotate(-9 1120.5 1223.0)" >5</text>
<text x="1210.0" y="1192.0" font-size="68" text-anchor="middle" transform="rotate(-9 1210.0 1192.0)" >0</text>
<text x="191.0" y="1337.0" font-size="68" text-anchor="middle" transform="rotate(-3 191.0 1337.0)" >-8</text>
<text x="236.0" y="1379.0" font-size="68" text-anchor="middle" transform="rotate(-3 236.0 1379.0)" >-4</text>
<text x="293.0" y="1420.0" font-size="68" text-anchor="middle" transform="rotate(-3 293.0 1420.0)" >0</text>
<text x="415.5" y="1536.5" font-size="83" text-anchor="start" transform="rotate(-16 415.5 1536.5)" >Tooth length parameter <tspan font-style="italic">l</tspan>(mm)</text>
<text x="95.0" y="1342.0" font-size="78" text-anchor="start" transform="rotate(47.6 95.0 1342.0)" letter-spacing="2"><tspan font-style="italic">t</tspan><tspan font-style="italic" font-size="60%" dy="0.3em">h</tspan><tspan dy="-0.18em">(mm)</tspan></text>
<rect x="1651" y="125.0" width="173" height="121.6" fill="#000000"/>
<rect x="1651" y="246.0" width="173" height="121.6" fill="#0000ff"/>
<rect x="1651" y="367.0" width="173" height="121.6" fill="#0080ff"/>
<rect x="1651" y="488.0" width="173" height="121.6" fill="#00ffff"/>
<rect x="1651" y="609.0" width="173" height="121.6" fill="#00ff80"/>
<rect x="1651" y="730.0" width="173" height="121.6" fill="#00ff00"/>
<rect x="1651" y="851.0" width="173" height="121.6" fill="#ffff00"/>
<rect x="1651" y="972.0" width="173" height="121.6" fill="#ff8000"/>
<rect x="1651" y="1093.0" width="173" height="121.6" fill="#ff0000"/>
<text x="1842.0" y="276.0" font-size="70" text-anchor="start" >0</text>
<text x="1842.0" y="397.0" font-size="70" text-anchor="start" >5.625 ×10<tspan dy="-25" font-size="44">4</tspan></text>
<text x="1842.0" y="518.0" font-size="70" text-anchor="start" >1.125 ×10<tspan dy="-25" font-size="44">5</tspan></text>
<text x="1842.0" y="639.0" font-size="70" text-anchor="start" >1.688 ×10<tspan dy="-25" font-size="44">5</tspan></text>
<text x="1842.0" y="760.0" font-size="70" text-anchor="start" >2.250 ×10<tspan dy="-25" font-size="44">5</tspan></text>
<text x="1842.0" y="881.0" font-size="70" text-anchor="start" >2.813 ×10<tspan dy="-25" font-size="44">5</tspan></text>
<text x="1842.0" y="1002.0" font-size="70" text-anchor="start" >3.375 ×10<tspan dy="-25" font-size="44">5</tspan></text>
<text x="1842.0" y="1123.0" font-size="70" text-anchor="start" >3.938 ×10<tspan dy="-25" font-size="44">5</tspan></text>
<text x="1842.0" y="1244.0" font-size="70" text-anchor="start" >4.500 ×10<tspan dy="-25" font-size="44">5</tspan></text>
</g>
<g id="p2">
<line x1="285.0" y1="1734.8" x2="331.6" y2="2845.2" stroke="#d4d4d4" stroke-width="2.2" stroke-dasharray="3 3"/>
<line x1="331.6" y1="2845.2" x2="427.3" y2="2926.2" stroke="#dddddd" stroke-width="2.2" stroke-dasharray="3 3"/>
<line x1="410.0" y1="1726.6" x2="444.0" y2="2814.1" stroke="#d4d4d4" stroke-width="2.2" stroke-dasharray="3 3"/>
<line x1="444.0" y1="2814.1" x2="540.7" y2="2891.9" stroke="#dddddd" stroke-width="2.2" stroke-dasharray="3 3"/>
<line x1="530.0" y1="1718.7" x2="552.3" y2="2784.1" stroke="#d4d4d4" stroke-width="2.2" stroke-dasharray="3 3"/>
<line x1="552.3" y1="2784.1" x2="650.1" y2="2858.9" stroke="#dddddd" stroke-width="2.2" stroke-dasharray="3 3"/>
<line x1="645.0" y1="1711.1" x2="656.5" y2="2755.2" stroke="#d4d4d4" stroke-width="2.2" stroke-dasharray="3 3"/>
<line x1="656.5" y1="2755.2" x2="755.4" y2="2827.1" stroke="#dddddd" stroke-width="2.2" stroke-dasharray="3 3"/>
<line x1="755.0" y1="1703.9" x2="756.7" y2="2727.5" stroke="#d4d4d4" stroke-width="2.2" stroke-dasharray="3 3"/>
<line x1="756.7" y1="2727.5" x2="856.5" y2="2796.6" stroke="#dddddd" stroke-width="2.2" stroke-dasharray="3 3"/>
<line x1="860.0" y1="1697.0" x2="852.6" y2="2700.9" stroke="#d4d4d4" stroke-width="2.2" stroke-dasharray="3 3"/>
<line x1="852.6" y1="2700.9" x2="953.3" y2="2767.3" stroke="#dddddd" stroke-width="2.2" stroke-dasharray="3 3"/>
<line x1="960.0" y1="1690.5" x2="944.3" y2="2675.5" stroke="#d4d4d4" stroke-width="2.2" stroke-dasharray="3 3"/>
<line x1="944.3" y1="2675.5" x2="1045.9" y2="2739.4" stroke="#dddddd" stroke-width="2.2" stroke-dasharray="3 3"/>
<line x1="1055.0" y1="1684.2" x2="1031.8" y2="2651.3" stroke="#d4d4d4" stroke-width="2.2" stroke-dasharray="3 3"/>
<line x1="1031.8" y1="2651.3" x2="1134.2" y2="2712.7" stroke="#dddddd" stroke-width="2.2" stroke-dasharray="3 3"/>
<line x1="1218.0" y1="1686.8" x2="1180.0" y2="2655.5" stroke="#d4d4d4" stroke-width="2.2" stroke-dasharray="3 3"/>
<polyline points="211.7,1878.0 1146.3,1794.4 1275.5,1816.1" fill="none" stroke="#dddddd" stroke-width="2.2" stroke-dasharray="3 3"/>
<polyline points="218.3,2012.6 1142.6,1908.0 1270.1,1934.2" fill="none" stroke="#dddddd" stroke-width="2.2" stroke-dasharray="3 3"/>
<polyline points="224.7,2143.8 1139.1,2018.6 1264.8,2049.3" fill="none" stroke="#dddddd" stroke-width="2.2" stroke-dasharray="3 3"/>
<polyline points="231.0,2271.7 1135.6,2126.6 1259.7,2161.5" fill="none" stroke="#dddddd" stroke-width="2.2" stroke-dasharray="3 3"/>
<polyline points="237.1,2396.5 1132.2,2231.8 1254.7,2271.0" fill="none" stroke="#dddddd" stroke-width="2.2" stroke-dasharray="3 3"/>
<polyline points="243.0,2518.1 1128.9,2334.4 1249.9,2377.6" fill="none" stroke="#dddddd" stroke-width="2.2" stroke-dasharray="3 3"/>
<polyline points="248.8,2636.7 1125.7,2434.4 1245.1,2481.7" fill="none" stroke="#dddddd" stroke-width="2.2" stroke-dasharray="3 3"/>
<polyline points="254.5,2752.3 1122.6,2531.9 1240.5,2583.1" fill="none" stroke="#dddddd" stroke-width="2.2" stroke-dasharray="3 3"/>
<polyline points="307.5,2906.5 1177.8,2654.5" fill="none" stroke="#dddddd" stroke-width="2.2" stroke-dasharray="3 3"/>
<polyline points="260.0,2865.0 205.0,1740.0 1150.0,1678.0 1281.0,1695.0 1236.0,2682.0" fill="none" stroke="#333" stroke-width="2.2" stroke-dasharray="5 2"/>
<line x1="1150.0" y1="1678.0" x2="1119.5" y2="2627.0" stroke="#d4d4d4" stroke-width="2.2" />
<line x1="1150.0" y1="1678.0" x2="1119.5" y2="2627.0" stroke="#333" stroke-width="1.9800000000000002" stroke-dasharray="3 3" opacity="0.25"/>
<line x1="260.0" y1="2865.0" x2="1119.5" y2="2627.0" stroke="#d4d4d4" stroke-width="2.2" />
<line x1="1119.5" y1="2627.0" x2="1236.0" y2="2682.0" stroke="#d4d4d4" stroke-width="2.2" />
<line x1="205.0" y1="1740.0" x2="260.0" y2="2865.0" stroke="#444" stroke-width="3" />
<line x1="1281.0" y1="1695.0" x2="1236.0" y2="2682.0" stroke="#111" stroke-width="3" />
<line x1="260.0" y1="2865.0" x2="355.0" y2="2948.0" stroke="#777" stroke-width="2" />
<line x1="1124.6" y1="2474.0" x2="1119.5" y2="2627.0" stroke="#555" stroke-width="3" />
<polygon points="260.0,2865.0 1119.5,2627.0 1236.0,2682.0 355.0,2948.0" fill="#1a69ad" />
<polygon points="483.0,2903.5 860.0,2768.8 1063.0,2697.8 1184.6,2655.5 1237.0,2682.6 483.0,2909.5" fill="#00ffff" />
<polygon points="483.0,2906.0 860.0,2772.6 1063.0,2702.4 1184.6,2660.5 1237.0,2682.6 500.0,2904.4" fill="#58e878" />
<polygon points="483.0,2907.5 860.0,2775.5 1063.0,2705.9 1184.6,2664.5 1190.0,2661.0 1237.0,2682.6 520.0,2898.4" fill="#ffff00" />
<polygon points="894.0,2775.5 1063.0,2708.0 1198.0,2661.0 1227.0,2676.0 1063.0,2730.0 940.0,2767.0" fill="#e4573a" />
<polygon points="1150.0,2680.0 1183.0,2667.0 1200.0,2671.0 1170.0,2681.0" fill="#ff3020" />
<polyline points="483.0,2903.5 860.0,2768.8 1063.0,2697.8 1184.6,2655.5" fill="none" stroke="#e8ffff" stroke-width="3" stroke-dasharray="3 2" opacity="0.9"/>
<polyline points="483.0,2909.5 1237.0,2682.6" fill="none" stroke="#303018" stroke-width="1.5" />
<polygon points="250.7,2633.7 486.5,2580.0 481.0,2650.0 478.0,2672.8 346.0,2706.7" fill="#1a69ad" />
<polygon points="481.5,2632.0 800.0,2544.0 1195.6,2437.0 1193.0,2460.0 850.0,2566.0 478.0,2670.0" fill="#1a69ad" />
<polygon points="490.0,2495.0 800.0,2414.0 1203.0,2320.0 1195.6,2437.0 800.0,2544.0 481.5,2632.0" fill="#00ffff" />
<polygon points="496.0,2352.0 800.0,2284.4 1207.0,2197.0 1203.0,2320.0 800.0,2414.0 490.0,2495.0" fill="#008080" />
<polygon points="501.0,2208.6 1050.0,2107.0 1211.0,2075.0 1207.0,2197.0 800.0,2284.4 496.0,2352.0" fill="#00ff00" />
<polygon points="506.0,2091.0 678.0,2068.0 805.0,2049.0 856.0,2031.0 909.0,2000.0 1260.0,1955.0 1266.0,1985.0 1218.0,1995.0 1211.0,2075.0 1050.0,2107.0 501.0,2208.6" fill="#ffff00" />
<polygon points="909.0,2000.0 1235.0,1805.0 1260.0,1955.0" fill="#e4573a" />
<polygon points="1207.0,1823.0 1235.0,1805.0 1237.0,1819.0" fill="#d81830" />
<clipPath id="cl2"><polygon points="506.0,2091.0 678.0,2068.0 805.0,2049.0 856.0,2031.0 909.0,2000.0 1235.0,1805.0 1266.0,1985.0 1218.0,1995.0 1195.6,2437.0 800.0,2544.0 481.5,2632.0"/></clipPath>
<clipPath id="cl2f"><polygon points="506.0,2091.0 678.0,2068.0 805.0,2049.0 856.0,2031.0 1218.0,1995.0 1195.6,2437.0 800.0,2544.0 481.5,2632.0"/></clipPath>
<clipPath id="cl2t"><polygon points="830.0,2040.0 909.0,2000.0 1235.0,1805.0 1266.0,1985.0 1218.0,1995.0 830.0,2050.0"/></clipPath>
<polyline points="501.0,2208.6 1050.0,2107.0 1211.0,2075.0" fill="none" stroke="#d8f4e0" stroke-width="1.8" />
<polyline points="496.0,2352.0 800.0,2284.4 1207.0,2197.0" fill="none" stroke="#d8f4e0" stroke-width="1.8" />
<polyline points="490.0,2495.0 800.0,2414.0 1203.0,2320.0" fill="none" stroke="#d8f4e0" stroke-width="1.8" />
<polyline points="481.5,2632.0 800.0,2544.0 1195.6,2437.0" fill="none" stroke="#d8f4e0" stroke-width="1.8" />
<g clip-path="url(#cl2t)" stroke="#2470b4" stroke-width="1.5" fill="none" opacity="0.8">
<path d="M922.6 1991.9L1262 1955.2"/>
<path d="M936.2 1983.8L1262 1949.4"/>
<path d="M949.8 1975.6L1262 1943.6"/>
<path d="M963.3 1967.5L1262 1937.8"/>
<path d="M976.9 1959.4L1262 1931.9"/>
<path d="M990.5 1951.2L1262 1926.1"/>
<path d="M1004.1 1943.1L1262 1920.3"/>
<path d="M1017.7 1935.0L1262 1914.5"/>
<path d="M1031.2 1926.9L1262 1908.7"/>
<path d="M1044.8 1918.8L1262 1902.9"/>
<path d="M1058.4 1910.6L1262 1897.1"/>
<path d="M1072.0 1902.5L1262 1891.2"/>
<path d="M1085.6 1894.4L1262 1885.4"/>
<path d="M1099.2 1886.2L1262 1879.6"/>
<path d="M1112.8 1878.1L1262 1873.8"/>
<path d="M1126.3 1870.0L1262 1868.0"/>
<path d="M1139.9 1861.9L1262 1862.2"/>
<path d="M1153.5 1853.8L1262 1856.4"/>
<path d="M1167.1 1845.6L1262 1850.6"/>
<path d="M1180.7 1837.5L1262 1844.8"/>
<path d="M1194.2 1829.4L1262 1838.9"/>
<path d="M1207.8 1821.2L1262 1833.1"/>
<path d="M1221.4 1813.1L1262 1827.3"/>
<path d="M900.4 2006.6L1260.5 1958.4"/>
<path d="M895.8 2010.2L1261.0 1960.8"/>
<path d="M891.2 2013.8L1261.5 1963.2"/>
<path d="M886.7 2017.3L1262.0 1965.7"/>
<path d="M882.1 2020.9L1262.5 1968.1"/>
<path d="M877.5 2024.5L1263.0 1970.5"/>
<path d="M872.9 2028.1L1263.5 1972.9"/>
<path d="M868.3 2031.7L1264.0 1975.3"/>
<path d="M863.8 2035.2L1264.5 1977.8"/>
<path d="M859.2 2038.8L1265.0 1980.2"/>
<path d="M854.6 2042.4L1265.5 1982.6"/>
</g>
<g clip-path="url(#cl2f)" stroke="#2470b4" stroke-width="1.7" fill="none" opacity="0.85" >
<path d="M548.0 2085.4L536.0 2616.9"/>
<path d="M548.0 2085.4L333.0 2673.0"/>
<path d="M591.0 2079.6L579.0 2605.1"/>
<path d="M591.0 2079.6L376.0 2661.1"/>
<path d="M634.0 2073.9L622.0 2593.2"/>
<path d="M634.0 2073.9L419.0 2649.3"/>
<path d="M677.0 2068.1L665.0 2581.3"/>
<path d="M677.0 2068.1L462.0 2637.4"/>
<path d="M720.0 2061.7L708.0 2569.4"/>
<path d="M720.0 2061.7L505.0 2625.5"/>
</g>
<g clip-path="url(#cl2f)" stroke="#2470b4" stroke-width="1.5" fill="none" opacity="0.8" >
<path d="M741.0 2058.6L729.0 2563.6"/>
<path d="M741.0 2058.6L551.0 2612.8"/>
<path d="M762.5 2055.4L750.5 2557.7"/>
<path d="M762.5 2055.4L572.5 2606.9"/>
<path d="M784.0 2052.1L772.0 2551.7"/>
<path d="M784.0 2052.1L594.0 2600.9"/>
<path d="M805.5 2048.8L793.5 2545.8"/>
<path d="M805.5 2048.8L615.5 2595.0"/>
<path d="M827.0 2041.2L815.0 2539.9"/>
<path d="M827.0 2041.2L637.0 2589.0"/>
<path d="M848.5 2033.6L836.5 2534.1"/>
<path d="M848.5 2033.6L658.5 2583.1"/>
<path d="M870.0 2022.8L858.0 2528.3"/>
<path d="M870.0 2022.8L680.0 2577.2"/>
<path d="M891.5 2010.2L879.5 2522.5"/>
<path d="M891.5 2010.2L701.5 2571.2"/>
<path d="M913.0 1997.6L901.0 2516.7"/>
<path d="M913.0 1997.6L723.0 2565.3"/>
<path d="M934.5 1984.7L922.5 2510.9"/>
<path d="M934.5 1984.7L744.5 2559.3"/>
<path d="M956.0 1971.9L944.0 2505.1"/>
<path d="M956.0 1971.9L766.0 2553.4"/>
<path d="M977.5 1959.0L965.5 2499.2"/>
<path d="M977.5 1959.0L787.5 2547.5"/>
<path d="M999.0 1946.2L987.0 2493.4"/>
<path d="M999.0 1946.2L809.0 2541.6"/>
<path d="M1020.5 1933.3L1008.5 2487.6"/>
<path d="M1020.5 1933.3L830.5 2535.8"/>
<path d="M1042.0 1920.4L1030.0 2481.8"/>
<path d="M1042.0 1920.4L852.0 2529.9"/>
<path d="M1063.5 1907.6L1051.5 2476.0"/>
<path d="M1063.5 1907.6L873.5 2524.1"/>
<path d="M1085.0 1894.7L1073.0 2470.2"/>
<path d="M1085.0 1894.7L895.0 2518.3"/>
<path d="M1106.5 1881.9L1094.5 2464.3"/>
<path d="M1106.5 1881.9L916.5 2512.5"/>
<path d="M1128.0 1869.0L1116.0 2458.5"/>
<path d="M1128.0 1869.0L938.0 2506.7"/>
<path d="M1149.5 1856.1L1137.5 2452.7"/>
<path d="M1149.5 1856.1L959.5 2500.9"/>
<path d="M1171.0 1843.3L1159.0 2446.9"/>
<path d="M1171.0 1843.3L981.0 2495.0"/>
<path d="M1192.5 1830.4L1180.5 2441.1"/>
<path d="M1192.5 1830.4L1002.5 2489.2"/>
<path d="M1214.0 1817.6L1202.0 2435.3"/>
<path d="M1214.0 1817.6L1024.0 2483.4"/>
<path d="M1235.5 1804.7L1223.5 2429.5"/>
<path d="M1235.5 1804.7L1045.5 2477.6"/>
<path d="M1257.0 1791.8L1245.0 2423.6"/>
<path d="M1257.0 1791.8L1067.0 2471.8"/>
<path d="M1278.5 1779.0L1266.5 2417.8"/>
<path d="M1278.5 1779.0L1088.5 2466.0"/>
<path d="M1300.0 1766.1L1288.0 2412.0"/>
<path d="M1300.0 1766.1L1110.0 2460.2"/>
<path d="M1321.5 1753.3L1309.5 2406.2"/>
<path d="M1321.5 1753.3L1131.5 2454.3"/>
<path d="M1343.0 1740.4L1331.0 2400.4"/>
<path d="M1343.0 1740.4L1153.0 2448.5"/>
<path d="M1364.5 1727.5L1352.5 2394.6"/>
<path d="M1364.5 1727.5L1174.5 2442.7"/>
<path d="M1386.0 1714.7L1374.0 2388.7"/>
<path d="M1386.0 1714.7L1196.0 2436.9"/>
</g>
<g clip-path="url(#cl2t)" stroke="#2470b4" stroke-width="1.5" fill="none" opacity="0.8">
<path d="M880.0 2018.0L905.0 2038.0"/>
<path d="M903.7 2003.8L929.1 2034.5"/>
<path d="M927.3 1989.6L953.1 2030.9"/>
<path d="M951.0 1975.4L977.2 2027.4"/>
<path d="M974.7 1961.2L1001.3 2023.9"/>
<path d="M998.3 1947.0L1025.3 2020.3"/>
<path d="M1022.0 1932.8L1049.4 2016.8"/>
<path d="M1045.7 1918.6L1073.5 2013.3"/>
<path d="M1069.3 1904.4L1097.5 2009.7"/>
<path d="M1093.0 1890.2L1121.6 2006.2"/>
<path d="M1116.7 1876.0L1145.7 2002.7"/>
<path d="M1140.3 1861.8L1169.7 1999.1"/>
<path d="M1164.0 1847.6L1193.8 1995.6"/>
<path d="M1187.7 1833.4L1217.9 1992.1"/>
<path d="M1211.3 1819.2L1241.9 1988.5"/>
<path d="M1235.0 1805.0L1266.0 1985.0"/>
</g>
<path clip-path="url(#cl2)" d="M506 2107.7L526 2096.1L546 2090.1M506 2124.3L526 2108.7L546 2099.8L566 2093.2L586 2087.8L606 2083.2L626 2079.1M506 2141.0L526 2124.1L546 2113.5L566 2105.2L586 2098.3L606 2092.3L626 2087.0L646 2082.3L666 2077.9L686 2073.8L706 2069.7L726 2065.8L746 2062.0L766 2058.4M506 2157.7L526 2141.6L546 2130.7L566 2121.6L586 2113.8L606 2106.9L626 2100.6L646 2094.8L666 2089.5L686 2084.5L706 2079.5L726 2074.8L746 2070.4L766 2066.1L786 2061.9L806 2057.7L826 2050.0L846 2042.4L866 2032.7L886 2020.8L906 2008.8L926 2004.3L946 2001.1L966 1998.0L986 1994.9M506 2174.3L526 2160.9L546 2151.0L566 2142.4L586 2134.6L606 2127.5L626 2120.8L646 2114.6L666 2108.7L686 2103.1L706 2097.6L726 2092.2L746 2087.1L766 2082.2L786 2077.4L806 2072.6L826 2064.8L846 2057.1L866 2047.6L886 2036.1L906 2024.5L926 2019.4L946 2015.4L966 2011.6L986 2007.9M506 2191.0L526 2181.7L546 2174.3L566 2167.4L586 2160.9L606 2154.8L626 2148.8L646 2143.1L666 2137.6L686 2132.2L706 2126.8L726 2121.6L746 2116.5L766 2111.4L786 2106.5L806 2101.5L826 2094.7L846 2087.9L866 2079.8L886 2070.3L906 2060.7L926 2055.4L946 2050.9L966 2046.4L986 2042.1" fill="none" stroke="#2470b4" stroke-width="1.7" opacity="0.85" />
<polyline points="506.0,2091.0 501.0,2208.0 496.0,2352.0 490.0,2495.0 481.5,2632.0" fill="none" stroke="#2470b4" stroke-width="2.5" />
<polyline points="506.0,2091.0 678.0,2068.0 805.0,2049.0 856.0,2031.0 909.0,2000.0 1235.0,1805.0" fill="none" stroke="#2470b4" stroke-width="2.5" />
<polyline points="1235.0,1805.0 1260.0,1955.0 1266.0,1985.0" fill="none" stroke="#2470b4" stroke-width="2" />
<text x="78.0" y="1713.0" font-size="99" text-anchor="start" >SCT</text>
<text x="1336.5" y="1707.5" font-size="69" text-anchor="start" >4.5x10<tspan dy="-42" font-size="34">5</tspan></text>
<text x="1330.0" y="1829.5" font-size="69" text-anchor="start" >4.0x10<tspan dy="-42" font-size="34">5</tspan></text>
<text x="1324.4" y="1949.3" font-size="69" text-anchor="start" >3.5x10<tspan dy="-42" font-size="34">5</tspan></text>
<text x="1317.7" y="2066.0" font-size="69" text-anchor="start" >3.0x10<tspan dy="-42" font-size="34">5</tspan></text>
<text x="1312.6" y="2179.2" font-size="69" text-anchor="start" >2.5x10<tspan dy="-42" font-size="34">5</tspan></text>
<text x="1307.5" y="2292.5" font-size="69" text-anchor="start" >2.0x10<tspan dy="-42" font-size="34">5</tspan></text>
<text x="1301.5" y="2402.4" font-size="69" text-anchor="start" >1.5x10<tspan dy="-42" font-size="34">5</tspan></text>
<text x="1294.7" y="2510.6" font-size="69" text-anchor="start" >1.0x10<tspan dy="-42" font-size="34">5</tspan></text>
<text x="1294.0" y="2613.7" font-size="69" text-anchor="start" >5.0x10<tspan dy="-42" font-size="34">4</tspan></text>
<text x="1287.2" y="2701.6" font-size="69" text-anchor="start" >0.0</text>
<text x="1570.5" y="1769.0" font-size="83" text-anchor="start" transform="rotate(92.8 1570.5 1769.0)" >Water film pressure (Pa)</text>
<text x="429.0" y="2993.0" font-size="68" text-anchor="middle" transform="rotate(-9 429.0 2993.0)" >40</text>
<text x="547.0" y="2953.0" font-size="68" text-anchor="middle" transform="rotate(-9 547.0 2953.0)" >35</text>
<text x="665.0" y="2921.0" font-size="68" text-anchor="middle" transform="rotate(-9 665.0 2921.0)" >30</text>
<text x="776.0" y="2887.0" font-size="68" text-anchor="middle" transform="rotate(-9 776.0 2887.0)" >25</text>
<text x="880.0" y="2854.0" font-size="68" text-anchor="middle" transform="rotate(-9 880.0 2854.0)" >20</text>
<text x="984.0" y="2821.0" font-size="68" text-anchor="middle" transform="rotate(-9 984.0 2821.0)" >15</text>
<text x="1081.0" y="2793.0" font-size="68" text-anchor="middle" transform="rotate(-9 1081.0 2793.0)" >10</text>
<text x="1154.0" y="2762.0" font-size="68" text-anchor="middle" transform="rotate(-9 1154.0 2762.0)" >5</text>
<text x="1233.0" y="2736.0" font-size="68" text-anchor="middle" transform="rotate(-9 1233.0 2736.0)" >0</text>
<text x="197.0" y="2906.0" font-size="68" text-anchor="middle" transform="rotate(-3 197.0 2906.0)" >-8</text>
<text x="241.0" y="2950.0" font-size="68" text-anchor="middle" transform="rotate(-3 241.0 2950.0)" >-4</text>
<text x="299.0" y="2990.0" font-size="68" text-anchor="middle" transform="rotate(-3 299.0 2990.0)" >0</text>
<text x="455.5" y="3074.0" font-size="83" text-anchor="start" transform="rotate(-17.1 455.5 3074.0)" >Tooth length parameter <tspan font-style="italic">l</tspan>(mm)</text>
<text x="95.0" y="2924.0" font-size="78" text-anchor="start" transform="rotate(41 95.0 2924.0)" letter-spacing="2"><tspan font-style="italic">t</tspan><tspan font-style="italic" font-size="60%" dy="0.3em">h</tspan><tspan dy="-0.18em">(mm)</tspan></text>
<rect x="1663" y="1668.0" width="170.5" height="120.8" fill="#000000"/>
<rect x="1663" y="1788.2" width="170.5" height="120.8" fill="#0000ff"/>
<rect x="1663" y="1908.4" width="170.5" height="120.8" fill="#1a69ad"/>
<rect x="1663" y="2028.7" width="170.5" height="120.8" fill="#00ffff"/>
<rect x="1663" y="2148.9" width="170.5" height="120.8" fill="#008080"/>
<rect x="1663" y="2269.1" width="170.5" height="120.8" fill="#00ff00"/>
<rect x="1663" y="2389.3" width="170.5" height="120.8" fill="#ffff00"/>
<rect x="1663" y="2509.6" width="170.5" height="120.8" fill="#e4573a"/>
<rect x="1663" y="2629.8" width="170.5" height="120.8" fill="#ff0000"/>
<text x="1852.0" y="1816.2" font-size="67.5" text-anchor="start" >0</text>
<text x="1852.0" y="1936.4" font-size="67.5" text-anchor="start" >5.625×10<tspan dy="-25" font-size="40">4</tspan></text>
<text x="1852.0" y="2056.7" font-size="67.5" text-anchor="start" >1.125×10<tspan dy="-25" font-size="40">5</tspan></text>
<text x="1852.0" y="2176.9" font-size="67.5" text-anchor="start" >1.688×10<tspan dy="-25" font-size="40">5</tspan></text>
<text x="1852.0" y="2297.1" font-size="67.5" text-anchor="start" >2.250×10<tspan dy="-25" font-size="40">5</tspan></text>
<text x="1852.0" y="2417.3" font-size="67.5" text-anchor="start" >2.813×10<tspan dy="-25" font-size="40">5</tspan></text>
<text x="1852.0" y="2537.6" font-size="67.5" text-anchor="start" >3.375×10<tspan dy="-25" font-size="40">5</tspan></text>
<text x="1852.0" y="2657.8" font-size="67.5" text-anchor="start" >3.938×10<tspan dy="-25" font-size="40">5</tspan></text>
<text x="1852.0" y="2778.0" font-size="67.5" text-anchor="start" >4.500×10<tspan dy="-25" font-size="40">5</tspan></text>
</g>
<g id="p3">
<line x1="208.0" y1="3323.6" x2="259.5" y2="4462.2" stroke="#b2b2b2" stroke-width="2.0" />
<line x1="259.5" y1="4462.2" x2="353.1" y2="4550.0" stroke="#e2e2e2" stroke-width="2.0" />
<line x1="337.0" y1="3313.7" x2="375.6" y2="4429.7" stroke="#b2b2b2" stroke-width="2.0" />
<line x1="375.6" y1="4429.7" x2="470.3" y2="4514.2" stroke="#e2e2e2" stroke-width="2.0" />
<line x1="462.0" y1="3304.2" x2="488.6" y2="4398.1" stroke="#b2b2b2" stroke-width="2.0" />
<line x1="488.6" y1="4398.1" x2="584.3" y2="4479.3" stroke="#e2e2e2" stroke-width="2.0" />
<line x1="583.0" y1="3294.9" x2="598.5" y2="4367.4" stroke="#b2b2b2" stroke-width="2.0" />
<line x1="598.5" y1="4367.4" x2="695.1" y2="4445.4" stroke="#e2e2e2" stroke-width="2.0" />
<line x1="697.0" y1="3286.1" x2="702.4" y2="4338.3" stroke="#b2b2b2" stroke-width="2.0" />
<line x1="702.4" y1="4338.3" x2="799.9" y2="4413.4" stroke="#e2e2e2" stroke-width="2.0" />
<line x1="805.0" y1="3277.9" x2="801.2" y2="4310.7" stroke="#b2b2b2" stroke-width="2.0" />
<line x1="801.2" y1="4310.7" x2="899.5" y2="4382.9" stroke="#e2e2e2" stroke-width="2.0" />
<line x1="907.0" y1="3270.0" x2="894.8" y2="4284.6" stroke="#b2b2b2" stroke-width="2.0" />
<line x1="894.8" y1="4284.6" x2="993.9" y2="4354.0" stroke="#e2e2e2" stroke-width="2.0" />
<line x1="1006.0" y1="3262.4" x2="986.0" y2="4259.1" stroke="#b2b2b2" stroke-width="2.0" />
<line x1="986.0" y1="4259.1" x2="1085.9" y2="4325.8" stroke="#e2e2e2" stroke-width="2.0" />
<line x1="1168.0" y1="3263.6" x2="1130.3" y2="4262.7" stroke="#b2b2b2" stroke-width="2.0" />
<polyline points="132.4,3471.5 1099.6,3375.1 1233.0,3398.3" fill="none" stroke="#e2e2e2" stroke-width="1.6" />
<polyline points="139.5,3609.4 1096.4,3492.2 1227.1,3520.4" fill="none" stroke="#e2e2e2" stroke-width="1.6" />
<polyline points="146.5,3743.9 1093.2,3606.4 1221.4,3639.5" fill="none" stroke="#e2e2e2" stroke-width="1.6" />
<polyline points="153.4,3875.0 1090.0,3717.7 1215.8,3755.6" fill="none" stroke="#e2e2e2" stroke-width="1.6" />
<polyline points="160.0,4002.8 1087.0,3826.3 1210.4,3868.8" fill="none" stroke="#e2e2e2" stroke-width="1.6" />
<polyline points="166.5,4127.5 1084.0,3932.1 1205.1,3979.2" fill="none" stroke="#e2e2e2" stroke-width="1.6" />
<polyline points="172.8,4249.0 1081.2,4035.3 1199.9,4086.8" fill="none" stroke="#e2e2e2" stroke-width="1.6" />
<polyline points="179.0,4367.5 1078.3,4135.9 1194.9,4191.7" fill="none" stroke="#e2e2e2" stroke-width="1.6" />
<polyline points="231.5,4528.0 1132.8,4264.0" fill="none" stroke="#e2e2e2" stroke-width="2.0" />
<polyline points="185.0,4483.0 125.0,3330.0 1103.0,3255.0 1239.0,3273.0 1190.0,4294.0" fill="none" stroke="#2a2a2a" stroke-width="2.0" stroke-dasharray="14 4 4 4"/>
<line x1="1103.0" y1="3255.0" x2="1075.6" y2="4234.0" stroke="#b2b2b2" stroke-width="2.0" />
<line x1="1103.0" y1="3255.0" x2="1075.6" y2="4234.0" stroke="#2a2a2a" stroke-width="1.8" stroke-dasharray="14 10" opacity="0.55"/>
<line x1="185.0" y1="4483.0" x2="1075.6" y2="4234.0" stroke="#b2b2b2" stroke-width="2.0" />
<line x1="1075.6" y1="4234.0" x2="1190.0" y2="4294.0" stroke="#b2b2b2" stroke-width="2.0" />
<line x1="125.0" y1="3330.0" x2="185.0" y2="4483.0" stroke="#2a2a2a" stroke-width="2.2" />
<polygon points="185.0,4483.0 1075.6,4234.0 1190.0,4294.0 278.0,4573.0" fill="#0a80f8" />
<polygon points="412.0,4534.6 413.0,4526.6 520.0,4482.5 628.0,4438.0 646.0,4446.0 646.0,4461.6" fill="#00ffff" />
<polygon points="438.0,4526.5 439.0,4519.6 520.0,4489.1 628.0,4448.5 646.0,4451.6 646.0,4461.6" fill="#40f060" />
<polygon points="470.0,4516.5 471.0,4511.9 520.0,4495.0 628.0,4457.9 646.0,4456.6 646.0,4461.6" fill="#ffff00" />
<path d="M651.4 4457.0C628.7 4458.9 641.6 4442.2 636.4 4436.0C631.2 4429.8 628.4 4430.2 625.4 4426.0C622.4 4421.8 621.2 4418.8 621.4 4415.0C621.6 4411.2 622.8 4410.0 626.4 4407.0C630.0 4404.0 631.7 4403.1 639.2 4400.0C646.7 4396.9 651.9 4395.5 664.0 4391.7C676.1 4387.9 685.3 4386.0 699.5 4381.0C713.7 4376.0 719.4 4373.0 735.0 4366.9C750.6 4360.8 763.4 4355.8 777.6 4350.5C791.8 4345.2 786.1 4347.6 806.0 4340.6C825.9 4333.6 848.6 4325.6 877.0 4315.7C905.4 4305.8 919.6 4300.8 948.0 4290.9C976.4 4281.0 996.3 4274.2 1019.0 4266.0C1041.7 4257.8 1049.6 4254.5 1061.7 4249.7C1073.8 4244.9 1073.3 4243.4 1079.4 4242.2C1085.5 4241.0 1071.1 4234.0 1092.0 4243.5C1112.9 4253.0 1168.4 4279.1 1184.0 4289.5C1199.6 4299.9 1184.8 4290.5 1170.0 4295.4C1155.2 4300.3 1134.0 4306.6 1110.0 4314.1C1086.0 4321.5 1074.0 4325.3 1050.0 4332.8C1026.0 4340.2 1014.0 4344.0 990.0 4351.5C966.0 4358.9 954.0 4362.7 930.0 4370.2C906.0 4377.6 894.0 4381.4 870.0 4388.9C846.0 4396.3 834.0 4400.1 810.0 4407.5C786.0 4415.0 781.7 4416.4 750.0 4426.2C718.3 4436.1 674.1 4455.0 651.4 4457.0Z" fill="#00ffff" />
<path d="M687.0 4445.9C671.4 4447.6 677.2 4439.2 672.0 4435.0C666.8 4430.8 664.0 4429.2 661.0 4425.0C658.0 4420.8 656.8 4417.8 657.0 4414.0C657.2 4410.2 653.5 4411.0 662.0 4406.0C670.5 4401.0 684.9 4395.3 699.5 4388.9C714.1 4382.5 719.4 4380.4 735.0 4373.9C750.6 4367.4 763.4 4362.0 777.6 4356.4C791.8 4350.7 786.1 4353.2 806.0 4345.7C825.9 4338.2 848.6 4329.3 877.0 4319.0C905.4 4308.6 919.6 4303.9 948.0 4293.9C976.4 4283.9 996.3 4277.2 1019.0 4269.0C1041.7 4260.8 1049.6 4257.5 1061.7 4252.7C1073.8 4247.9 1073.3 4246.4 1079.4 4245.2C1085.5 4244.0 1071.1 4237.6 1092.0 4246.5C1112.9 4255.4 1168.4 4279.7 1184.0 4289.5C1199.6 4299.3 1184.8 4290.5 1170.0 4295.4C1155.2 4300.3 1134.0 4306.6 1110.0 4314.1C1086.0 4321.5 1074.0 4325.3 1050.0 4332.8C1026.0 4340.2 1014.0 4344.0 990.0 4351.5C966.0 4358.9 954.0 4362.7 930.0 4370.2C906.0 4377.6 894.0 4381.4 870.0 4388.9C846.0 4396.3 834.0 4400.1 810.0 4407.5C786.0 4415.0 774.6 4418.6 750.0 4426.2C725.4 4433.9 702.6 4444.1 687.0 4445.9Z" fill="#00ff80" />
<path d="M724.0 4434.3C703.8 4439.4 714.2 4435.3 709.0 4433.0C703.8 4430.7 701.0 4427.2 698.0 4423.0C695.0 4418.8 693.8 4415.8 694.0 4412.0C694.2 4408.2 690.8 4410.2 699.0 4404.0C707.2 4397.8 719.3 4389.3 735.0 4381.1C750.7 4372.9 763.4 4368.7 777.6 4362.9C791.8 4357.0 786.1 4359.6 806.0 4351.7C825.9 4343.9 848.6 4334.7 877.0 4323.7C905.4 4312.8 919.6 4307.2 948.0 4296.9C976.4 4286.6 996.3 4280.2 1019.0 4272.0C1041.7 4263.8 1049.6 4260.5 1061.7 4255.7C1073.8 4250.9 1073.3 4249.4 1079.4 4248.2C1085.5 4247.0 1071.1 4241.2 1092.0 4249.5C1112.9 4257.8 1168.4 4280.3 1184.0 4289.5C1199.6 4298.7 1184.8 4290.5 1170.0 4295.4C1155.2 4300.3 1134.0 4306.6 1110.0 4314.1C1086.0 4321.5 1074.0 4325.3 1050.0 4332.8C1026.0 4340.2 1014.0 4344.0 990.0 4351.5C966.0 4358.9 954.0 4362.7 930.0 4370.2C906.0 4377.6 894.0 4381.4 870.0 4388.9C846.0 4396.3 839.2 4398.4 810.0 4407.5C780.8 4416.6 744.2 4429.3 724.0 4434.3Z" fill="#00ff00" />
<path d="M763.0 4422.2C750.6 4426.9 753.2 4431.2 748.0 4431.0C742.8 4430.8 740.0 4425.2 737.0 4421.0C734.0 4416.8 732.8 4413.8 733.0 4410.0C733.2 4406.2 729.1 4409.7 738.0 4402.0C746.9 4394.3 764.0 4380.0 777.6 4371.6C791.2 4363.2 786.1 4368.1 806.0 4359.8C825.9 4351.6 848.6 4342.1 877.0 4330.3C905.4 4318.5 919.6 4311.9 948.0 4300.9C976.4 4289.8 996.3 4283.4 1019.0 4275.0C1041.7 4266.6 1049.6 4263.5 1061.7 4258.7C1073.8 4253.9 1073.3 4252.4 1079.4 4251.2C1085.5 4250.0 1071.1 4244.8 1092.0 4252.5C1112.9 4260.2 1168.4 4280.9 1184.0 4289.5C1199.6 4298.1 1184.8 4290.5 1170.0 4295.4C1155.2 4300.3 1134.0 4306.6 1110.0 4314.1C1086.0 4321.5 1074.0 4325.3 1050.0 4332.8C1026.0 4340.2 1014.0 4344.0 990.0 4351.5C966.0 4358.9 954.0 4362.7 930.0 4370.2C906.0 4377.6 894.0 4381.4 870.0 4388.9C846.0 4396.3 831.4 4400.9 810.0 4407.5C788.6 4414.2 775.4 4417.5 763.0 4422.2Z" fill="#ffff00" />
<path d="M806.0 4404.0C796.2 4404.3 796.8 4398.8 795.5 4394.0C794.2 4389.2 796.8 4383.1 799.0 4377.5C801.2 4371.9 801.6 4368.6 808.0 4363.0C814.4 4357.4 822.1 4352.7 834.5 4346.5C846.9 4340.3 856.6 4336.4 877.0 4328.5C897.4 4320.6 922.4 4311.9 948.0 4302.5C973.6 4293.1 998.5 4283.9 1019.0 4276.0C1039.5 4268.1 1048.9 4262.8 1061.7 4258.5C1074.5 4254.2 1081.1 4252.4 1090.2 4252.0C1099.3 4251.6 1104.3 4254.2 1112.0 4256.0C1119.7 4257.8 1120.0 4256.8 1132.7 4262.0C1145.4 4267.2 1177.5 4279.0 1182.4 4285.0C1187.3 4291.0 1174.8 4290.2 1160.0 4295.5C1145.2 4300.7 1128.8 4305.2 1100.0 4314.2C1071.2 4323.2 1036.0 4334.1 1000.0 4345.3C964.0 4356.6 927.0 4368.1 900.0 4376.5C873.0 4384.9 866.9 4387.1 850.0 4392.1C833.1 4397.0 815.8 4403.7 806.0 4404.0Z" fill="#ff8000" />
<path d="M944.5 4311.5C944.8 4309.1 948.5 4307.3 953.0 4305.0C957.5 4302.7 957.5 4303.2 969.4 4298.5C981.3 4293.8 1002.4 4285.9 1019.0 4279.0C1035.6 4272.1 1050.2 4265.7 1061.7 4260.4C1073.2 4255.1 1077.4 4252.4 1083.0 4249.5C1088.6 4246.6 1088.3 4244.1 1093.0 4244.5C1097.7 4244.9 1103.1 4249.1 1109.0 4252.0C1114.9 4254.9 1129.4 4256.2 1126.0 4260.8C1122.6 4265.4 1109.5 4269.4 1090.2 4277.5C1070.9 4285.6 1040.7 4298.5 1019.0 4306.0C997.3 4313.5 981.5 4316.8 969.4 4319.0C957.3 4321.2 956.1 4319.9 951.6 4318.5C947.1 4317.1 944.2 4313.9 944.5 4311.5Z" fill="#ff0000" stroke="#ffd8b0" stroke-width="1.6"/>
<polygon points="1083.0,4249.5 1092.5,4243.2 1126.5,4260.6 1100.0,4272.0" fill="#ff0000" />
<polyline points="646.0,4459.1 1186.0,4290.9" fill="none" stroke="#ffff00" stroke-width="6" />
<polyline points="412.0,4533.1 650.0,4458.9" fill="none" stroke="#ffff00" stroke-width="3" />
<polyline points="650.0,4453.9 1180.0,4288.8" fill="none" stroke="#fff6c8" stroke-width="1.4" />
<polygon points="173.5,4252.0 414.0,4192.5 410.0,4260.0 407.0,4295.0 270.0,4328.0" fill="#1a80ee" />
<polygon points="409.4,4254.0 645.0,4183.0 650.0,4143.0 1093.4,4012.4 1092.0,4036.0 650.0,4166.0 643.0,4214.0 407.0,4280.0" fill="#1a80ee" />
<polygon points="418.5,4115.0 658.0,4046.0 673.0,4011.0 710.0,4000.0 980.0,3928.0 1096.0,3903.0 1093.4,4012.4 650.0,4143.0 645.0,4183.0 409.4,4254.0" fill="#00ffff" />
<polygon points="425.6,3966.0 689.0,3900.0 710.0,3875.0 980.0,3804.0 1105.0,3772.0 1096.0,3903.0 980.0,3928.0 710.0,4000.0 673.0,4011.0 658.0,4046.0 418.5,4115.0" fill="#00ff80" />
<polygon points="430.7,3814.0 735.0,3750.0 750.0,3733.0 980.0,3677.0 1111.0,3651.0 1105.0,3772.0 980.0,3804.0 710.0,3875.0 689.0,3900.0 425.6,3966.0" fill="#00ff00" />
<polygon points="436.0,3694.5 694.5,3654.0 740.0,3632.0 780.7,3604.0 980.0,3580.4 1209.0,3546.0 1224.0,3575.0 1112.6,3595.0 1111.0,3651.0 980.0,3677.0 750.0,3733.0 735.0,3750.0 430.7,3814.0" fill="#ffff00" />
<polygon points="780.7,3604.0 851.0,3524.0 902.0,3468.0 953.0,3430.0 973.0,3420.0 1168.4,3400.0 1209.0,3546.0 980.0,3580.4" fill="#ff8000" />
<polygon points="973.0,3420.0 1029.0,3377.0 1080.0,3344.0 1140.5,3306.0 1168.4,3400.0" fill="#ff0000" />
<clipPath id="cl3"><polygon points="436.0,3694.5 694.5,3654.0 740.0,3632.0 780.7,3604.0 851.0,3524.0 902.0,3468.0 953.0,3430.0 973.0,3420.0 1029.0,3377.0 1080.0,3344.0 1140.5,3306.0 1168.4,3400.0 1209.0,3546.0 1224.0,3575.0 1112.6,3595.0 1093.4,4012.4 650.0,4143.0 645.0,4183.0 409.4,4254.0"/></clipPath>
<polyline points="430.7,3814.0 735.0,3750.0 750.0,3733.0 980.0,3677.0 1111.0,3651.0" fill="none" stroke="#e8fff0" stroke-width="1.6" />
<polyline points="425.6,3966.0 689.0,3900.0 710.0,3875.0 980.0,3804.0 1105.0,3772.0" fill="none" stroke="#e8fff0" stroke-width="1.6" />
<polyline points="418.5,4115.0 658.0,4046.0 673.0,4011.0 710.0,4000.0 980.0,3928.0 1096.0,3903.0" fill="none" stroke="#e8fff0" stroke-width="1.6" />
<polyline points="409.4,4254.0 645.0,4183.0 650.0,4143.0 1093.4,4012.4" fill="none" stroke="#e8fff0" stroke-width="1.6" />
<polyline points="780.7,3604.0 980.0,3580.4 1209.0,3546.0" fill="none" stroke="#fff0c0" stroke-width="1.6" />
<polyline points="973.0,3420.0 1168.4,3400.0" fill="none" stroke="#ffe8d0" stroke-width="1.6" />
<path clip-path="url(#cl3)" d="M410 3710.6L430 3703.9L450 3698.5L470 3693.8L490 3689.5M410 3722.7L430 3713.4L450 3706.2L470 3700.1L490 3694.6L510 3689.7L530 3685.2L550 3681.0L570 3677.0M410 3734.8L430 3723.4L450 3714.7L470 3707.2L490 3700.8L510 3694.9L530 3689.7L550 3684.8L570 3680.2L590 3675.9L610 3671.9L630 3667.9M410 3746.9L430 3733.8L450 3723.6L470 3715.1L490 3707.6L510 3700.9L530 3694.8L550 3689.3L570 3684.2L590 3679.4M650 3666.0L670 3662.1L690 3658.4M410 3758.9L430 3744.3L450 3733.0L470 3723.4L490 3714.9L510 3707.4L530 3700.6L550 3694.4L570 3688.7L590 3683.4L610 3678.4L630 3673.7M710 3651.5L730 3641.2L750 3628.9L770 3614.7M410 3771.0L430 3755.1L450 3742.7L470 3732.1L490 3722.8L510 3714.5L530 3707.0L550 3700.2L570 3693.9L590 3688.1L610 3682.6L630 3677.5L650 3671.7L670 3667.2L690 3662.9M790 3598.0L810 3574.8L830 3551.7L850 3528.6M410 3783.1L430 3766.1L450 3752.7L470 3741.2L490 3731.1L510 3722.1L530 3713.9L550 3706.5L570 3699.6L590 3693.2L610 3687.3L630 3681.7L650 3675.3L670 3670.5M710 3656.4L730 3645.7L750 3633.1L770 3618.6M870 3507.8L890 3485.5L910 3466.0L930 3450.7L950 3435.4M410 3795.1L430 3777.1L450 3763.0L470 3750.7L490 3739.8L510 3730.1L530 3721.3L550 3713.2L570 3705.8L590 3699.0L610 3692.5L630 3686.5L650 3679.4L670 3674.2L690 3669.2M790 3602.4L810 3578.9L830 3555.6L850 3532.3M970 3425.7L990 3410.8L1010 3395.1L1030 3379.6M410 3807.2L430 3788.4L450 3773.4L470 3760.4L490 3748.9L510 3738.5L530 3729.1L550 3720.5L570 3712.5L590 3705.2L610 3698.3L630 3691.8L650 3683.9L670 3678.4L690 3673.1L710 3663.2L730 3652.0L750 3638.9L770 3624.0M870 3512.0L890 3489.5L910 3469.7L930 3454.2L950 3438.7M1050 3367.7L1070 3354.4L1090 3341.3L1110 3328.4M410 3819.3L430 3799.7L450 3784.1L470 3770.5L490 3758.3L510 3747.4L530 3737.4L550 3728.2L570 3719.7L590 3711.8L610 3704.5L630 3697.6L650 3688.9L670 3683.0L690 3677.4L710 3667.2L730 3655.8L750 3642.5L770 3627.4L790 3608.4L810 3584.7L830 3561.1L850 3537.6M970 3429.5L990 3414.4L1010 3398.5M1130 3316.9L1150 3304.0L1170 3291.1L1190 3278.3M410 3831.3L430 3811.1L450 3794.9L470 3780.7L490 3768.0L510 3756.5L530 3746.0L550 3736.3L570 3727.3L590 3719.0L610 3711.2L630 3703.9L650 3694.4L670 3688.1L690 3682.1L710 3671.7L730 3660.0L750 3646.6L770 3631.3L790 3612.1L810 3588.3L830 3564.6L850 3540.9L870 3518.0L890 3495.2L910 3475.2L930 3459.4L950 3443.6M1030 3384.9L1050 3371.3L1070 3357.8L1090 3344.5M1210 3266.7M410 3843.4L430 3822.7L450 3806.0L470 3791.2L490 3778.0L510 3766.0L530 3755.0L550 3744.8L570 3735.4L590 3726.6L610 3718.4L630 3710.6L650 3700.2L670 3693.6L690 3687.3L710 3676.6L730 3664.7L750 3651.0L770 3635.6L790 3616.2L810 3592.3L830 3568.5L850 3544.7L870 3521.7L890 3498.8L910 3478.6L930 3462.6M970 3435.0L990 3419.6L1010 3403.4M1110 3333.6L1130 3320.5L1150 3307.4L1170 3294.3M410 3855.5L430 3834.3L450 3817.1L470 3802.0L490 3788.3L510 3775.8L530 3764.3L550 3753.7L570 3743.8L590 3734.6L610 3726.0L630 3717.9L650 3706.6L670 3699.6L690 3693.0L710 3682.0L730 3669.9L750 3656.0L770 3640.3L790 3620.9L810 3596.9L830 3572.9L850 3549.0L870 3525.9L890 3502.8L910 3482.6L930 3466.4L950 3450.4L970 3438.5L990 3422.9M1030 3390.5L1050 3376.7L1070 3362.9L1090 3349.4M1190 3283.4L1210 3270.3M410 3867.6L430 3846.0L450 3828.5L470 3812.9L490 3798.8L510 3785.9L530 3774.0L550 3763.0L570 3752.7L590 3743.1L610 3734.0L630 3725.5L650 3713.3L670 3706.0L690 3699.1L710 3687.9L730 3675.5L750 3661.4L770 3645.6L790 3626.0L810 3601.9L830 3577.9L850 3553.9L870 3530.6L890 3507.5L910 3487.1L930 3470.8L950 3454.6L970 3442.5L990 3426.7L1010 3410.3L1030 3394.1L1050 3380.1L1070 3366.2M1110 3339.1L1130 3325.7L1150 3312.4L1170 3299.1M410 3879.6L430 3857.8L450 3840.0L470 3824.0L490 3809.6L510 3796.3L530 3784.0L550 3772.6L570 3762.0L590 3752.0L610 3742.5L630 3733.7L650 3720.5L670 3712.9L690 3705.7L710 3694.2L730 3681.6L750 3667.3L770 3651.3L790 3631.6L810 3607.5L830 3583.4L850 3559.3L870 3535.9L890 3512.7L910 3492.1L930 3475.7L950 3459.3L970 3447.0L990 3431.2L1010 3414.6L1030 3398.2L1050 3384.1L1070 3370.0L1090 3356.2L1110 3342.6L1130 3329.1L1150 3315.7M1190 3288.9L1210 3275.6M410 3891.7L430 3869.7L450 3851.6L470 3835.4L490 3820.6L510 3807.0L530 3794.4L550 3782.6L570 3771.6L590 3761.2L610 3751.5L630 3742.2L650 3728.1L670 3720.2L690 3712.7L710 3700.9L730 3688.2L750 3673.7L770 3657.6L790 3637.8L810 3613.6L830 3589.4L850 3565.2L870 3541.8L890 3518.5L910 3497.8L930 3481.2L950 3464.7L970 3452.2L990 3436.2L1010 3419.4L1030 3402.9L1050 3388.6L1070 3374.4L1090 3360.5L1110 3346.8L1130 3333.1L1150 3319.5L1170 3306.0L1190 3292.5L1210 3279.0M410 3903.8L430 3881.6L450 3863.3L470 3846.9L490 3831.8L510 3817.9L530 3805.0L550 3792.9L570 3781.6L590 3770.9L610 3760.8L630 3751.3L650 3736.2L670 3728.0L690 3720.1L710 3708.2L730 3695.2L750 3680.6L770 3664.3L790 3644.4L810 3620.2L830 3596.0L850 3571.8L870 3548.3L890 3524.9L910 3504.1L930 3487.4L950 3470.7L970 3458.0L990 3441.8L1010 3425.0L1030 3408.3L1050 3393.8L1070 3379.5L1090 3365.4L1110 3351.5L1130 3337.7L1150 3323.9L1170 3310.3L1190 3296.6L1210 3283.0M410 3915.8L430 3893.6L450 3875.2L470 3858.5L490 3843.3L510 3829.1L530 3815.9L550 3803.6L570 3791.9L590 3781.0L610 3770.6L630 3760.7L650 3744.7L670 3736.1L690 3728.0L710 3715.9L730 3702.7L750 3688.0L770 3671.6L790 3651.6L810 3627.4L830 3603.2L850 3578.9L870 3555.4L890 3531.9L910 3511.1L930 3494.2L950 3477.3L970 3464.5L990 3448.2L1010 3431.1L1030 3414.3L1050 3399.7L1070 3385.2L1090 3370.9L1110 3356.9L1130 3342.9L1150 3329.0L1170 3315.2L1190 3301.4L1210 3287.7M410 3927.9L430 3905.7L450 3887.1L470 3870.4L490 3854.9L510 3840.6L530 3827.2L550 3814.5L570 3802.6L590 3791.4L610 3780.7L630 3770.6L650 3753.5L670 3744.8L690 3736.4L710 3724.1L730 3710.7L750 3695.9L770 3679.4L790 3659.4L810 3635.2L830 3610.9L850 3586.7L870 3563.2L890 3539.7L910 3518.7L930 3501.7L950 3484.7L970 3471.7L990 3455.2L1010 3438.0L1030 3421.1L1050 3406.3L1070 3391.6L1090 3377.2L1110 3363.0L1130 3348.9L1150 3334.9L1170 3320.9L1190 3307.0L1210 3293.1M410 3940.0L430 3917.8L450 3899.2L470 3882.3L490 3866.8L510 3852.3L530 3838.6L550 3825.8L570 3813.7L590 3802.2L610 3791.3L630 3780.9L650 3762.8L670 3753.8L690 3745.2L710 3732.7L730 3719.2L750 3704.3L770 3687.7L790 3667.7L810 3643.5L830 3619.3L850 3595.1L870 3571.6L890 3548.1L910 3527.1L930 3509.9L950 3492.8L970 3479.6L990 3463.0L1010 3445.7L1030 3428.6L1050 3413.7L1070 3398.9L1090 3384.3L1110 3369.9L1130 3355.7L1150 3341.5L1170 3327.3L1190 3313.3L1210 3299.3M410 3952.1L430 3930.0L450 3911.4L470 3894.5L490 3878.8L510 3864.2L530 3850.4L550 3837.4L570 3825.1L590 3813.4L610 3802.3L630 3791.6L650 3772.5L670 3763.3L690 3754.4L710 3741.8L730 3728.2L750 3713.2L770 3696.5L790 3676.5L810 3652.4L830 3628.3L850 3604.2L870 3580.7L890 3557.2L910 3536.1L930 3518.9L950 3501.7L970 3488.3L990 3471.5L1010 3454.2L1030 3437.0L1050 3421.9L1070 3406.9L1090 3392.2L1110 3377.7L1130 3363.3L1150 3348.9L1170 3334.6L1190 3320.4L1210 3306.3M410 3964.1L430 3942.2L450 3923.7L470 3906.8L490 3891.0L510 3876.3L530 3862.4L550 3849.3L570 3836.8L590 3824.9L610 3813.6L630 3802.8L650 3782.7L670 3773.2L690 3764.1L710 3751.4L730 3737.7L750 3722.6L770 3705.9L790 3685.9L810 3662.0L830 3638.0L850 3613.9L870 3590.4L890 3567.0L910 3546.0L930 3528.6L950 3511.3L970 3497.8L990 3480.9L1010 3463.5L1030 3446.2L1050 3431.0L1070 3415.8L1090 3401.0L1110 3386.3L1130 3371.8L1150 3357.3L1170 3342.8L1190 3328.5L1210 3314.2M410 3976.2L430 3954.5L450 3936.0L470 3919.2L490 3903.5L510 3888.7L530 3874.7L550 3861.5L570 3848.9L590 3836.8L610 3825.3L630 3814.3L650 3793.2L670 3783.5L690 3774.2L710 3761.4L730 3747.7L750 3732.5L770 3715.9L790 3695.9L810 3672.1L830 3648.3L850 3624.3L870 3601.0L890 3577.6L910 3556.6L930 3539.1L950 3521.8L970 3508.1L990 3491.2L1010 3473.6L1030 3456.2L1050 3440.9L1070 3425.7L1090 3410.7L1110 3395.9L1130 3381.2L1150 3366.6L1170 3352.0L1190 3337.5L1210 3323.0M410 3988.3L430 3966.8L450 3948.5L470 3931.7L490 3916.0L510 3901.3L530 3887.3L550 3873.9L570 3861.2L590 3849.1L610 3837.5L630 3826.3L650 3804.1L670 3794.3L690 3784.8L710 3772.0L730 3758.2L750 3743.0L770 3726.4L790 3706.5L810 3682.9L830 3659.2L850 3635.4L870 3612.2L890 3588.9L910 3568.0L930 3550.5L950 3533.1L970 3519.3L990 3502.3L1010 3484.7L1030 3467.2L1050 3451.8L1070 3436.5L1090 3421.4L1110 3406.5L1130 3391.6L1150 3376.9L1170 3362.2L1190 3347.5L1210 3333.0M410 4000.3L430 3979.2L450 3961.1L470 3944.4L490 3928.8L510 3914.1L530 3900.0L550 3886.7L570 3873.9L590 3861.7L610 3849.9L630 3838.7L650 3815.5L670 3805.5L690 3795.9L710 3783.0L730 3769.2L750 3754.0L770 3737.4L790 3717.7L810 3694.3L830 3670.8L850 3647.3L870 3624.2L890 3601.1L910 3580.2L930 3562.7L950 3545.3L970 3531.4L990 3514.4L1010 3496.7L1030 3479.2L1050 3463.7L1070 3448.3L1090 3433.1L1110 3418.1L1130 3403.1L1150 3388.3L1170 3373.5L1190 3358.7L1210 3344.0M410 4012.4L430 3991.6L450 3973.7L470 3957.2L490 3941.7L510 3927.0L530 3913.1L550 3899.7L570 3886.9L590 3874.6L610 3862.8L630 3851.4L650 3827.2L670 3817.1L690 3807.4L710 3794.4L730 3780.6L750 3765.5L770 3749.0L790 3729.5L810 3706.4L830 3683.1L850 3659.8L870 3636.9L890 3614.0L910 3593.3L930 3575.8L950 3558.4L970 3544.4L990 3527.4L1010 3509.7L1030 3492.2L1050 3476.7L1070 3461.2L1090 3445.9L1110 3430.8L1130 3415.8L1150 3400.8L1170 3385.9L1190 3371.1L1210 3356.3M410 4024.5L430 4004.0L450 3986.5L470 3970.2L490 3954.8L510 3940.2L530 3926.3L550 3913.0L570 3900.2L590 3887.9L610 3876.0L630 3864.6L650 3839.3L670 3829.2L690 3819.3L710 3806.4L730 3792.6L750 3777.6L770 3761.2L790 3741.9L810 3719.1L830 3696.2L850 3673.1L870 3650.5L890 3627.8L910 3607.2L930 3589.8L950 3572.5L970 3558.4L990 3541.4L1010 3523.8L1030 3506.3L1050 3490.7L1070 3475.1L1090 3459.8L1110 3444.7L1130 3429.6L1150 3414.5L1170 3399.6L1190 3384.6L1210 3369.8M410 4036.5L430 4016.6L450 3999.3L470 3983.2L490 3968.0L510 3953.6L530 3939.8L550 3926.5L570 3913.8L590 3901.5L610 3889.6L630 3878.2L650 3851.8L670 3841.6L690 3831.7L710 3818.8L730 3805.1L750 3790.2L770 3774.0L790 3754.9L810 3732.5L830 3709.9L850 3687.1L870 3664.8L890 3642.5L910 3622.1L930 3604.8L950 3587.5L970 3573.4L990 3556.4L1010 3538.9L1030 3521.5L1050 3505.9L1070 3490.3L1090 3474.9L1110 3459.8L1130 3444.6L1150 3429.6L1170 3414.5L1190 3399.5L1210 3384.6M410 4048.6L430 4029.1L450 4012.2L470 3996.4L490 3981.4L510 3967.2L530 3953.5L550 3940.4L570 3927.7L590 3915.5L610 3903.6L630 3892.1L650 3864.8L670 3854.5L690 3844.5L710 3831.7L730 3818.1L750 3803.4L770 3787.3L790 3768.5L810 3746.5L830 3724.3L850 3702.0L870 3680.0L890 3658.0L910 3637.8L930 3620.7L950 3603.5L970 3589.4L990 3572.5L1010 3555.1L1030 3537.8L1050 3522.2L1070 3506.6L1090 3491.3L1110 3476.1L1130 3461.0L1150 3445.9L1170 3430.8L1190 3415.8L1210 3400.9M410 4060.7L430 4041.7L450 4025.2L470 4009.7L490 3995.0L510 3980.9L530 3967.4L550 3954.4L570 3941.9L590 3929.7L610 3917.9L630 3906.5L650 3878.1L670 3867.8L690 3857.8L710 3845.1L730 3831.7L750 3817.1L770 3801.2L790 3782.8L810 3761.2L830 3739.5L850 3717.6L870 3696.0L890 3674.4L910 3654.5L930 3637.5L950 3620.5L970 3606.5L990 3589.8L1010 3572.5L1030 3555.3L1050 3539.8L1070 3524.3L1090 3509.0L1110 3493.8L1130 3478.7L1150 3463.6L1170 3448.6L1190 3433.6L1210 3418.6M410 4072.8L430 4054.3L450 4038.2L470 4023.1L490 4008.7L510 3994.9L530 3981.6L550 3968.8L570 3956.3L590 3944.3L610 3932.6L630 3921.2L650 3891.8L670 3881.5L690 3871.5L710 3859.0L730 3845.7L750 3831.3L770 3815.8L790 3797.7L810 3776.6L830 3755.4L850 3734.0L870 3712.9L890 3691.7L910 3672.2L930 3655.4L950 3638.6L970 3624.6L990 3608.1L1010 3591.0L1030 3574.0L1050 3558.6L1070 3543.2L1090 3528.0L1110 3512.9L1130 3497.9L1150 3482.9L1170 3467.9L1190 3452.9L1210 3438.0M410 4084.8L430 4067.0L450 4051.3L470 4036.6L490 4022.5L510 4009.0L530 3995.9L550 3983.3L570 3971.1L590 3959.2L610 3947.6L630 3936.4L650 3905.8L670 3895.7L690 3885.7L710 3873.3L730 3860.3L750 3846.1L770 3830.9L790 3813.3L810 3792.8L830 3772.1L850 3751.2L870 3730.6L890 3709.9L910 3690.8L930 3674.3L950 3657.8L970 3643.9L990 3627.6L1010 3610.8L1030 3594.0L1050 3578.7L1070 3563.5L1090 3548.4L1110 3533.4L1130 3518.5L1150 3503.6L1170 3488.7L1190 3473.8L1210 3459.0M410 4096.9L430 4079.7L450 4064.5L470 4050.2L490 4036.5L510 4023.3L530 4010.5L550 3998.1L570 3986.1L590 3974.4L610 3963.0L630 3951.9L650 3920.3L670 3910.2L690 3900.3L710 3888.2L730 3875.3L750 3861.5L770 3846.6L790 3829.5L810 3809.6L830 3789.5L850 3769.2L870 3749.2L890 3729.1L910 3710.5L930 3694.3L950 3678.1L970 3664.4L990 3648.3L1010 3631.8L1030 3615.3L1050 3600.2L1070 3585.2L1090 3570.3L1110 3555.5L1130 3540.7L1150 3526.0L1170 3511.2L1190 3496.5L1210 3481.8M410 4109.0L430 4092.4L450 4077.8L470 4063.9L490 4050.6L510 4037.7L530 4025.3L550 4013.2L570 4001.4L590 3989.9L610 3978.7L630 3967.8L650 3935.2L670 3925.2L690 3915.4L710 3903.5L730 3890.9L750 3877.4L770 3862.9L790 3846.3L810 3827.1L830 3807.7L850 3788.1L870 3768.7L890 3749.2L910 3731.1L930 3715.3L950 3699.5L970 3686.0L990 3670.3L1010 3654.1L1030 3637.9L1050 3623.1L1070 3608.3L1090 3593.7L1110 3579.1L1130 3564.5L1150 3550.0L1170 3535.4L1190 3520.9L1210 3506.4M410 4121.0L430 4105.2L450 4091.1L470 4077.7L490 4064.8L510 4052.4L530 4040.3L550 4028.5L570 4017.0L590 4005.8L610 3994.8L630 3984.1L650 3950.4L670 3940.6L690 3930.9L710 3919.3L730 3907.1L750 3893.9L770 3879.9L790 3863.8L810 3845.3L830 3826.7L850 3807.8L870 3789.2L890 3770.3L910 3752.8L930 3737.5L950 3722.0L970 3708.8L990 3693.5L1010 3677.8L1030 3662.0L1050 3647.5L1070 3633.0L1090 3618.6L1110 3604.4L1130 3590.1L1150 3575.8L1170 3561.5L1190 3547.2L1210 3532.9M410 4133.1L430 4118.0L450 4104.5L470 4091.6L490 4079.2L510 4067.2L530 4055.5L550 4044.0L570 4032.9L590 4021.9L610 4011.2L630 4000.7L650 3966.0L670 3956.4L690 3946.9L710 3935.6L730 3923.7L750 3911.0L770 3897.4L790 3882.0L810 3864.3L830 3846.5L850 3828.4L870 3810.5L890 3792.5L910 3775.6L930 3760.7L950 3745.8L970 3732.9L990 3718.1L1010 3702.8L1030 3687.5L1050 3673.4L1070 3659.3L1090 3645.2L1110 3631.3L1130 3617.3L1150 3603.4L1170 3589.4L1190 3575.4L1210 3561.4M410 4145.2L430 4130.9L450 4118.0L470 4105.6L490 4093.7L510 4082.1L530 4070.8L550 4059.8L570 4049.0L590 4038.4L610 4028.0L630 4017.7L650 3982.1L670 3972.6L690 3963.3L710 3952.3L730 3940.9L750 3928.6L770 3915.6L790 3900.9L810 3884.0L830 3867.0L850 3849.8L870 3832.8L890 3815.6L910 3799.5L930 3785.1L950 3770.8L970 3758.2L990 3743.9L1010 3729.2L1030 3714.5L1050 3700.8L1070 3687.1L1090 3673.5L1110 3660.0L1130 3646.4L1150 3632.9L1170 3619.3L1190 3605.7L1210 3592.1M410 4157.3L430 4143.7L450 4131.5L470 4119.7L490 4108.3L510 4097.2L530 4086.4L550 4075.8L570 4065.4L590 4055.1L610 4045.0L630 4035.1L650 3998.4L670 3989.3L690 3980.2L710 3969.6L730 3958.6L750 3946.9L770 3934.4L790 3920.4L810 3904.5L830 3888.4L850 3872.2L870 3856.1L890 3839.8L910 3824.5L930 3810.7L950 3797.0L970 3784.9L990 3771.2L1010 3757.1L1030 3743.0L1050 3729.8L1070 3716.7L1090 3703.5L1110 3690.5L1130 3677.4L1150 3664.3L1170 3651.2L1190 3638.1L1210 3624.9M410 4169.3L430 4156.6L450 4145.1L470 4133.9L490 4123.1L510 4112.5L530 4102.2L550 4092.0L570 4082.0L590 4072.2L610 4062.5L630 4052.9L650 4015.2L670 4006.3L690 3997.5L710 3987.4L730 3976.8L750 3965.6L770 3953.8L790 3940.6L810 3925.7L830 3910.7L850 3895.4L870 3880.3L890 3865.0L910 3850.5L930 3837.5L950 3824.5L970 3812.9L990 3799.9L1010 3786.5L1030 3773.1L1050 3760.5L1070 3747.9L1090 3735.4L1110 3722.9L1130 3710.4L1150 3697.8L1170 3685.2L1190 3672.6L1210 3660.0M410 4181.4L430 4169.6L450 4158.7L470 4148.2L490 4138.0L510 4128.0L530 4118.1L550 4108.4L570 4098.9L590 4089.5L610 4080.2L630 4071.0L650 4032.3L670 4023.8L690 4015.3L710 4005.6L730 3995.6L750 3985.0L770 3973.9L790 3961.5L810 3947.7L830 3933.7L850 3919.6L870 3905.5L890 3891.3L910 3877.8L930 3865.5L950 3853.2L970 3842.3L990 3830.0L1010 3817.4L1030 3804.7L1050 3792.9L1070 3780.9L1090 3769.1L1110 3757.2L1130 3745.3L1150 3733.4L1170 3721.5L1190 3709.5L1210 3697.5M410 4193.5L430 4182.5L450 4172.4L470 4162.6L490 4153.0L510 4143.5L530 4134.3L550 4125.1L570 4116.1L590 4107.1L610 4098.3L630 4089.6L650 4049.8L670 4041.6L690 4033.5L710 4024.3L730 4014.9L750 4005.0L770 3994.6L790 3983.1L810 3970.4L830 3957.6L850 3944.6L870 3931.7L890 3918.6L910 3906.2L930 3894.8L950 3883.4L970 3873.0L990 3861.6L1010 3849.8L1030 3838.1L1050 3827.0L1070 3815.8L1090 3804.7L1110 3793.5L1130 3782.4L1150 3771.2L1170 3760.0L1190 3748.8L1210 3737.5M410 4205.5L430 4195.5L450 4186.2L470 4177.0L490 4168.1L510 4159.3L530 4150.6L550 4142.0L570 4133.5L590 4125.0L610 4116.7L630 4108.4L650 4067.7L670 4059.9L690 4052.1L710 4043.5L730 4034.7L750 4025.5L770 4015.9L790 4005.4L810 3993.9L830 3982.3L850 3970.6L870 3958.9L890 3947.1L910 3935.8L930 3925.3L950 3914.8L970 3905.2L990 3894.7L1010 3883.9L1030 3873.1L1050 3862.8L1070 3852.5L1090 3842.2L1110 3831.9L1130 3821.6L1150 3811.3L1170 3800.9L1190 3790.5L1210 3780.1M410 4217.6L430 4208.6L450 4200.0L470 4191.6L490 4183.3L510 4175.2L530 4167.1L550 4159.1L570 4151.1L590 4143.3L610 4135.4L630 4127.7L650 4086.0L670 4078.6L690 4071.2L710 4063.3L730 4055.1L750 4046.6L770 4037.8L790 4028.4L810 4018.2L830 4007.9L850 3997.5L870 3987.2L890 3976.7L910 3966.6L930 3957.1L950 3947.6L970 3938.8L990 3929.3L1010 3919.6L1030 3909.9L1050 3900.6L1070 3891.2L1090 3881.8L1110 3872.5L1130 3863.1L1150 3853.7L1170 3844.3L1190 3834.8L1210 3825.3M410 4229.7L430 4221.6L450 4213.9L470 4206.2L490 4198.7L510 4191.2L530 4183.8L550 4176.4L570 4169.0L590 4161.7L610 4154.5L630 4147.3L650 4104.6L670 4097.7L690 4090.8L710 4083.5L730 4076.0L750 4068.3L770 4060.5L790 4052.2L810 4043.3L830 4034.4L850 4025.4L870 4016.4L890 4007.4L910 3998.6L930 3990.3L950 3981.9L970 3973.9L990 3965.5L1010 3957.0L1030 3948.4L1050 3940.1L1070 3931.8L1090 3923.5L1110 3915.2L1130 3906.9L1150 3898.5L1170 3890.1L1190 3881.7L1210 3873.3M410 4241.7L430 4234.7L450 4227.8L470 4220.9L490 4214.1L510 4207.4L530 4200.6L550 4193.9L570 4187.2L590 4180.5L610 4173.9L630 4167.2L650 4123.6L670 4117.2L690 4110.8L710 4104.1L730 4097.4L750 4090.6L770 4083.7L790 4076.6L810 4069.2L830 4061.8L850 4054.3L870 4046.8L890 4039.3L910 4031.9L930 4024.7L950 4017.5L970 4010.6L990 4003.4L1010 3996.1L1030 3988.8L1050 3981.7L1070 3974.5L1090 3967.4L1110 3960.2L1130 3953.0L1150 3945.8L1170 3938.6L1190 3931.4L1210 3924.2" fill="none" stroke="#2088ea" stroke-width="1.7" opacity="0.62" stroke-dasharray="6 6"/>
<path clip-path="url(#cl3)" d="M449.5 3715.0L449.2 3729.3M447.4 3809.9L447.2 3822.5M445.6 3895.0L445.2 3914.0M444.3 3953.1L443.8 3975.2M443.0 4012.9L442.6 4033.4M441.7 4073.3L441.4 4086.3M440.0 4151.0L439.3 4180.2M438.4 4223.9L438.0 4239.8M484.5 3753.0L484.0 3776.7M482.6 3839.5L481.9 3871.9M481.1 3910.2L480.4 3940.1M479.2 3995.4L478.9 4009.5M477.9 4052.8L477.5 4070.6M475.5 4162.7L475.2 4177.7M521.0 3725.8L520.6 3744.9M518.9 3818.3L518.7 3830.7M517.8 3869.8L517.5 3885.4M515.6 3968.0L515.2 3988.4M513.9 4045.4L513.4 4069.3M511.9 4136.0L511.5 4153.6M556.9 3724.3L556.5 3740.7M554.8 3815.9L554.3 3838.4M552.2 3934.7L551.6 3961.8M550.3 4016.9L549.6 4049.5M548.6 4092.7L548.2 4112.9M546.2 4200.9L545.9 4215.3M593.9 3672.5L593.4 3698.2M591.3 3786.7L590.8 3810.3M588.6 3906.6L588.2 3924.5M586.3 4008.2L585.8 4032.3M584.1 4107.8L583.6 4128.9M628.5 3730.2L628.0 3751.7M626.1 3833.2L625.8 3845.5M623.9 3929.6L623.3 3954.8M620.9 4059.3L620.3 4088.4M619.0 4143.4L618.6 4162.8M666.0 3660.0L665.4 3681.2M664.3 3728.0L663.9 3741.5M662.9 3780.7L662.2 3808.6M661.1 3852.6L660.7 3869.1M659.2 3931.4L658.4 3961.6M657.4 4002.2L656.9 4023.1M655.0 4096.6L654.3 4127.0M700.5 3710.9L700.0 3728.0M698.4 3792.0L698.0 3810.9M695.5 3907.8L694.7 3939.9M693.6 3985.5L693.2 4000.3M691.9 4051.6L691.5 4067.7M737.0 3674.2L736.6 3691.0M735.7 3726.3L735.2 3746.5M733.7 3807.3L733.1 3830.8M730.6 3932.5L729.9 3958.7M728.2 4029.8L727.6 4054.4M773.9 3612.4L773.2 3643.2M771.0 3732.8L770.3 3763.0M768.1 3853.9L767.6 3873.5M766.1 3936.4L765.8 3949.7M763.9 4029.1L763.6 4041.5M762.6 4081.2L762.2 4096.8M809.5 3594.5L809.2 3606.6M808.4 3641.6L808.1 3656.0M807.1 3698.1L806.7 3717.1M805.8 3753.8L805.1 3784.1M803.3 3862.1L803.0 3876.3M801.8 3929.0L801.4 3947.6M800.0 4008.1L799.7 4021.8M844.5 3599.2L844.0 3620.5M842.6 3689.3L842.3 3702.2M841.4 3744.4L841.0 3762.9M839.8 3816.4L839.2 3845.7M838.2 3892.0L837.9 3903.5M835.7 4005.1L835.2 4027.7M834.3 4072.9L833.8 4095.9M881.2 3526.9L880.6 3559.5M878.6 3654.9L878.1 3681.2M877.0 3734.5L876.6 3753.6M875.6 3800.2L875.1 3828.2M873.6 3900.5L873.0 3928.6M871.8 3986.7L871.5 4002.6M916.6 3525.0L916.1 3554.8M914.2 3646.2L913.7 3675.2M912.0 3762.0L911.6 3778.0M910.2 3849.2L909.9 3868.0M909.1 3905.1L908.9 3916.7M907.8 3971.2L907.5 3988.0M952.7 3496.5L952.3 3517.3M950.4 3617.9L949.7 3650.6M947.8 3752.5L947.4 3771.5M946.5 3821.9L946.1 3837.9M945.2 3886.7L944.9 3902.2M943.4 3980.9L942.8 4011.7M989.4 3440.5L988.9 3465.9M987.2 3556.9L986.9 3569.7M985.4 3651.0L984.8 3682.0M983.1 3771.7L982.6 3799.2M981.3 3867.7L981.0 3882.6M979.3 3972.9L979.0 3991.2M1024.7 3447.3L1024.4 3467.0M1023.2 3530.1L1022.6 3562.0M1021.1 3647.7L1020.8 3662.4M1020.0 3706.3L1019.7 3720.6M1017.9 3819.0L1017.4 3847.7M1016.6 3893.0L1016.0 3922.1M1014.1 4025.8L1013.7 4051.2M1061.3 3394.1L1061.1 3407.9M1060.4 3443.9L1059.8 3476.3M1058.4 3556.8L1058.0 3579.4M1056.2 3679.7L1055.8 3700.3M1054.1 3796.3L1053.5 3825.4M1052.6 3875.2L1052.3 3891.8M1051.3 3947.3L1051.0 3963.6M1097.7 3350.8L1097.3 3371.1M1096.5 3415.2L1096.0 3446.3M1094.9 3506.0L1094.6 3527.1M1093.2 3602.9L1092.7 3633.8M1091.5 3698.3L1091.0 3729.5M1089.7 3799.6L1089.3 3822.3M1088.1 3893.9L1087.9 3905.3M1086.7 3971.2L1086.4 3986.2M1133.0 3366.0L1132.8 3380.8M1131.6 3449.0L1131.1 3475.9M1129.8 3549.9L1129.5 3568.0M1128.3 3639.3L1127.9 3662.5M1126.3 3752.4L1126.1 3765.8M1124.8 3840.0L1124.5 3856.5M1123.6 3910.8L1123.1 3938.8M1169.3 3326.8L1168.9 3354.5M1167.2 3453.4L1166.8 3474.1M1165.5 3552.0L1165.1 3574.1M1163.9 3645.0L1163.4 3671.2M1162.3 3737.9L1161.9 3760.6M1160.7 3829.1L1160.2 3860.8M1158.8 3944.7L1158.3 3975.0M1205.7 3283.0L1205.3 3306.3M1203.6 3407.4L1203.1 3436.8M1202.4 3481.4L1202.1 3495.1M1201.0 3561.1L1200.8 3573.7M1199.9 3625.5L1199.7 3638.1M1198.4 3720.0L1197.9 3748.2M1196.2 3846.0L1196.0 3860.4M1194.6 3945.5L1194.1 3971.1" fill="none" stroke="#2088ea" stroke-width="2.2" opacity="0.85"/>
<g clip-path="url(#cl3)" stroke="#2a8ae8" stroke-width="2" stroke-dasharray="4 4" fill="none" opacity="0.6">
<line x1="760.0" y1="3603.6" x2="1230.0" y2="3544.0" stroke="#2a8ae8" stroke-width="2" />
<line x1="760.0" y1="3591.2" x2="1230.0" y2="3532.0" stroke="#2a8ae8" stroke-width="2" />
<line x1="760.0" y1="3578.8" x2="1230.0" y2="3520.0" stroke="#2a8ae8" stroke-width="2" />
<line x1="760.0" y1="3566.3" x2="1230.0" y2="3508.0" stroke="#2a8ae8" stroke-width="2" />
<line x1="760.0" y1="3553.9" x2="1230.0" y2="3496.0" stroke="#2a8ae8" stroke-width="2" />
<line x1="760.0" y1="3541.5" x2="1230.0" y2="3484.0" stroke="#2a8ae8" stroke-width="2" />
<line x1="760.0" y1="3529.1" x2="1230.0" y2="3472.0" stroke="#2a8ae8" stroke-width="2" />
<line x1="760.0" y1="3516.7" x2="1230.0" y2="3460.0" stroke="#2a8ae8" stroke-width="2" />
<line x1="760.0" y1="3504.2" x2="1230.0" y2="3448.0" stroke="#2a8ae8" stroke-width="2" />
<line x1="760.0" y1="3491.8" x2="1230.0" y2="3436.0" stroke="#2a8ae8" stroke-width="2" />
<line x1="760.0" y1="3479.4" x2="1230.0" y2="3424.0" stroke="#2a8ae8" stroke-width="2" />
<line x1="760.0" y1="3467.0" x2="1230.0" y2="3412.0" stroke="#2a8ae8" stroke-width="2" />
<line x1="760.0" y1="3454.6" x2="1230.0" y2="3400.0" stroke="#2a8ae8" stroke-width="2" />
<line x1="760.0" y1="3442.2" x2="1230.0" y2="3388.0" stroke="#2a8ae8" stroke-width="2" />
<line x1="760.0" y1="3429.8" x2="1230.0" y2="3376.0" stroke="#2a8ae8" stroke-width="2" />
<line x1="760.0" y1="3417.3" x2="1230.0" y2="3364.0" stroke="#2a8ae8" stroke-width="2" />
<line x1="760.0" y1="3404.9" x2="1230.0" y2="3352.0" stroke="#2a8ae8" stroke-width="2" />
<line x1="760.0" y1="3392.5" x2="1230.0" y2="3340.0" stroke="#2a8ae8" stroke-width="2" />
<line x1="760.0" y1="3380.1" x2="1230.0" y2="3328.0" stroke="#2a8ae8" stroke-width="2" />
<line x1="760.0" y1="3367.7" x2="1230.0" y2="3316.0" stroke="#2a8ae8" stroke-width="2" />
<line x1="760.0" y1="3355.2" x2="1230.0" y2="3304.0" stroke="#2a8ae8" stroke-width="2" />
<line x1="760.0" y1="3342.8" x2="1230.0" y2="3292.0" stroke="#2a8ae8" stroke-width="2" />
<line x1="760.0" y1="3330.4" x2="1230.0" y2="3280.0" stroke="#2a8ae8" stroke-width="2" />
</g>
<defs><linearGradient id="fg" x1="0" y1="0" x2="1" y2="0"><stop offset="0" stop-color="#1878e8" stop-opacity="0.75"/><stop offset="0.35" stop-color="#2088e0" stop-opacity="0.45"/><stop offset="1" stop-color="#30a0d8" stop-opacity="0.05"/></linearGradient></defs>
<polygon points="784.4,3642.7 753.3,3732.0 722.2,3841.0 691.0,3950.0 667.7,4058.8 652.2,4144.3 694.0,4138.0 714.0,4027.7 738.0,3911.0 768.0,3794.4 790.0,3716.6 806.0,3650.0" fill="url(#fg)" clip-path="url(#cl3)"/>
<polyline points="784.4,3642.7 753.3,3732.0 722.2,3841.0 691.0,3950.0 667.7,4058.8 652.2,4144.3" fill="none" stroke="#1c7ce8" stroke-width="3" opacity="0.7" clip-path="url(#cl3)"/>
<polyline points="780.7,3604.0 851.0,3524.0 902.0,3468.0 953.0,3430.0 973.0,3420.0 1029.0,3377.0 1080.0,3344.0 1140.5,3306.0" fill="none" stroke="#2a86e6" stroke-width="3.5" opacity="0.8"/>
<text x="80.0" y="3252.5" font-size="99.5" text-anchor="start" >MCT</text>
<text x="746.0" y="4175.0" font-size="83" text-anchor="start" >meshing line</text>
<line x1="735.0" y1="4183.0" x2="738.6" y2="4349.0" stroke="#222" stroke-width="2.6" />
<line x1="735.0" y1="4183.0" x2="632.0" y2="4427.0" stroke="#222" stroke-width="2.6" />
<line x1="735.0" y1="4183.0" x2="493.6" y2="4491.0" stroke="#222" stroke-width="2.6" />
<text x="1263.3" y="3319.1" font-size="68.5" text-anchor="start" >4.5x10<tspan dy="-42" font-size="34">5</tspan></text>
<text x="1256.8" y="3442.2" font-size="68.5" text-anchor="start" >4.0x10<tspan dy="-42" font-size="34">5</tspan></text>
<text x="1252.4" y="3563.9" font-size="68.5" text-anchor="start" >3.5x10<tspan dy="-42" font-size="34">5</tspan></text>
<text x="1245.9" y="3682.6" font-size="68.5" text-anchor="start" >3.0x10<tspan dy="-42" font-size="34">5</tspan></text>
<text x="1239.4" y="3798.7" font-size="68.5" text-anchor="start" >2.5x10<tspan dy="-42" font-size="34">5</tspan></text>
<text x="1234.2" y="3913.0" font-size="68.5" text-anchor="start" >2.0x10<tspan dy="-42" font-size="34">5</tspan></text>
<text x="1228.0" y="4024.8" font-size="68.5" text-anchor="start" >1.5x10<tspan dy="-42" font-size="34">5</tspan></text>
<text x="1222.5" y="4133.5" font-size="68.5" text-anchor="start" >1.0x10<tspan dy="-42" font-size="34">5</tspan></text>
<text x="1219.8" y="4240.0" font-size="68.5" text-anchor="start" >5.0x10<tspan dy="-42" font-size="34">4</tspan></text>
<text x="1213.3" y="4331.3" font-size="68.5" text-anchor="start" >0.0</text>
<text x="1523.5" y="3406.0" font-size="83" text-anchor="start" transform="rotate(93 1523.5 3406.0)" letter-spacing="1.7">Water film pressure (Pa)</text>
<text x="306.0" y="4666.0" font-size="68" text-anchor="middle" transform="rotate(-9 306.0 4666.0)" >40</text>
<text x="436.0" y="4628.0" font-size="68" text-anchor="middle" transform="rotate(-9 436.0 4628.0)" >35</text>
<text x="559.0" y="4586.0" font-size="68" text-anchor="middle" transform="rotate(-9 559.0 4586.0)" >30</text>
<text x="675.0" y="4552.0" font-size="68" text-anchor="middle" transform="rotate(-9 675.0 4552.0)" >25</text>
<text x="788.0" y="4517.0" font-size="68" text-anchor="middle" transform="rotate(-9 788.0 4517.0)" >20</text>
<text x="898.0" y="4477.0" font-size="68" text-anchor="middle" transform="rotate(-9 898.0 4477.0)" >15</text>
<text x="1003.0" y="4446.0" font-size="68" text-anchor="middle" transform="rotate(-9 1003.0 4446.0)" >10</text>
<text x="1082.0" y="4418.0" font-size="68" text-anchor="middle" transform="rotate(-9 1082.0 4418.0)" >5</text>
<text x="1176.0" y="4382.0" font-size="68" text-anchor="middle" transform="rotate(-9 1176.0 4382.0)" >0</text>
<text x="114.0" y="4524.0" font-size="68" text-anchor="middle" transform="rotate(-3 114.0 4524.0)" >-8</text>
<text x="161.0" y="4569.5" font-size="68" text-anchor="middle" transform="rotate(-3 161.0 4569.5)" >-4</text>
<text x="220.6" y="4615.0" font-size="68" text-anchor="middle" transform="rotate(-3 220.6 4615.0)" >0</text>
<text x="352.0" y="4739.5" font-size="82.5" text-anchor="start" transform="rotate(-17.3 352.0 4739.5)" >Tooth length parameter <tspan font-style="italic">l</tspan>(mm)</text>
<text x="75.0" y="4593.0" font-size="78" text-anchor="start" transform="rotate(45.6 75.0 4593.0)" letter-spacing="2"><tspan font-style="italic">t</tspan><tspan font-style="italic" font-size="60%" dy="0.3em">h</tspan><tspan dy="-0.18em">(mm)</tspan></text>
<rect x="1658" y="3278.0" width="173" height="122.0" fill="#000000"/>
<rect x="1658" y="3399.4" width="173" height="122.0" fill="#0000ff"/>
<rect x="1658" y="3520.9" width="173" height="122.0" fill="#0080ff"/>
<rect x="1658" y="3642.3" width="173" height="122.0" fill="#00ffff"/>
<rect x="1658" y="3763.8" width="173" height="122.0" fill="#00ff80"/>
<rect x="1658" y="3885.2" width="173" height="122.0" fill="#00ff00"/>
<rect x="1658" y="4006.7" width="173" height="122.0" fill="#ffff00"/>
<rect x="1658" y="4128.1" width="173" height="122.0" fill="#ff8000"/>
<rect x="1658" y="4249.6" width="173" height="122.0" fill="#ff0000"/>
<text x="1850.0" y="3428.4" font-size="71" text-anchor="start" >0.000</text>
<text x="1850.0" y="3549.9" font-size="71" text-anchor="start" >5.625×10<tspan dy="-25" font-size="43">4</tspan></text>
<text x="1850.0" y="3671.3" font-size="71" text-anchor="start" >1.125×10<tspan dy="-25" font-size="43">5</tspan></text>
<text x="1850.0" y="3792.8" font-size="71" text-anchor="start" >1.688×10<tspan dy="-25" font-size="43">5</tspan></text>
<text x="1850.0" y="3914.2" font-size="71" text-anchor="start" >2.250×10<tspan dy="-25" font-size="43">5</tspan></text>
<text x="1850.0" y="4035.7" font-size="71" text-anchor="start" >2.813×10<tspan dy="-25" font-size="43">5</tspan></text>
<text x="1850.0" y="4157.1" font-size="71" text-anchor="start" >3.375×10<tspan dy="-25" font-size="43">5</tspan></text>
<text x="1850.0" y="4278.6" font-size="71" text-anchor="start" >3.938×10<tspan dy="-25" font-size="43">5</tspan></text>
<text x="1850.0" y="4400.0" font-size="71" text-anchor="start" >4.500×10<tspan dy="-25" font-size="43">5</tspan></text>
</g>
</svg></body></html>
